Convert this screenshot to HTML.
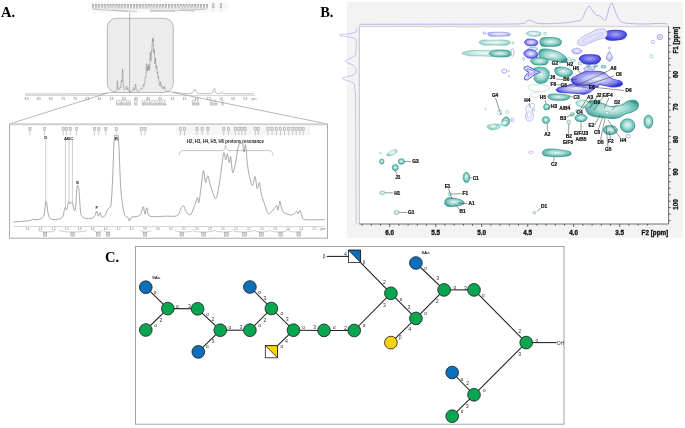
<!DOCTYPE html>
<html><head><meta charset="utf-8"><style>
html,body{margin:0;padding:0;background:#fff;}
svg{display:block;will-change:transform;}
</style></head><body>
<svg width="685" height="428" viewBox="0 0 685 428">
<rect width="685" height="428" fill="#fff"/>
<rect x="88" y="1.5" width="140" height="11" fill="#f9f9f9"/>
<rect x="92.1" y="4" width="1.9" height="4.4" fill="#a6a6a6"/>
<rect x="92.7" y="5.6" width="0.8" height="2.6" fill="#ececec"/>
<line x1="93.0" y1="8.5" x2="93.0" y2="9.8" stroke="#c4c4c4" stroke-width="0.35"/>
<rect x="95.0" y="4" width="1.9" height="4.4" fill="#a6a6a6"/>
<rect x="95.6" y="5.6" width="0.8" height="2.6" fill="#ececec"/>
<line x1="96.0" y1="8.5" x2="96.0" y2="9.8" stroke="#c4c4c4" stroke-width="0.35"/>
<rect x="97.9" y="4" width="1.9" height="4.4" fill="#a6a6a6"/>
<rect x="98.5" y="5.6" width="0.8" height="2.6" fill="#ececec"/>
<line x1="98.9" y1="8.5" x2="98.9" y2="9.8" stroke="#c4c4c4" stroke-width="0.35"/>
<rect x="100.9" y="4" width="1.9" height="4.4" fill="#a6a6a6"/>
<rect x="101.4" y="5.6" width="0.8" height="2.6" fill="#ececec"/>
<line x1="101.8" y1="8.5" x2="101.8" y2="9.8" stroke="#c4c4c4" stroke-width="0.35"/>
<rect x="103.8" y="4" width="1.9" height="4.4" fill="#a6a6a6"/>
<rect x="104.3" y="5.6" width="0.8" height="2.6" fill="#ececec"/>
<line x1="104.7" y1="8.5" x2="104.7" y2="9.8" stroke="#c4c4c4" stroke-width="0.35"/>
<rect x="106.7" y="4" width="1.9" height="4.4" fill="#a6a6a6"/>
<rect x="107.2" y="5.6" width="0.8" height="2.6" fill="#ececec"/>
<line x1="107.6" y1="8.5" x2="107.6" y2="9.8" stroke="#c4c4c4" stroke-width="0.35"/>
<rect x="109.6" y="4" width="1.9" height="4.4" fill="#a6a6a6"/>
<rect x="110.2" y="5.6" width="0.8" height="2.6" fill="#ececec"/>
<line x1="110.6" y1="8.5" x2="110.6" y2="9.8" stroke="#c4c4c4" stroke-width="0.35"/>
<rect x="112.5" y="4" width="1.9" height="4.4" fill="#a6a6a6"/>
<rect x="113.1" y="5.6" width="0.8" height="2.6" fill="#ececec"/>
<line x1="113.5" y1="8.5" x2="113.5" y2="9.8" stroke="#c4c4c4" stroke-width="0.35"/>
<rect x="115.5" y="4" width="1.9" height="4.4" fill="#a6a6a6"/>
<rect x="116.0" y="5.6" width="0.8" height="2.6" fill="#ececec"/>
<line x1="116.4" y1="8.5" x2="116.4" y2="9.8" stroke="#c4c4c4" stroke-width="0.35"/>
<rect x="118.4" y="4" width="1.9" height="4.4" fill="#a6a6a6"/>
<rect x="118.9" y="5.6" width="0.8" height="2.6" fill="#ececec"/>
<line x1="119.3" y1="8.5" x2="119.3" y2="9.8" stroke="#c4c4c4" stroke-width="0.35"/>
<rect x="121.3" y="4" width="1.9" height="4.4" fill="#a6a6a6"/>
<rect x="121.9" y="5.6" width="0.8" height="2.6" fill="#ececec"/>
<line x1="122.2" y1="8.5" x2="122.2" y2="9.8" stroke="#c4c4c4" stroke-width="0.35"/>
<rect x="124.2" y="4" width="1.9" height="4.4" fill="#a6a6a6"/>
<rect x="124.8" y="5.6" width="0.8" height="2.6" fill="#ececec"/>
<line x1="125.2" y1="8.5" x2="125.2" y2="9.8" stroke="#c4c4c4" stroke-width="0.35"/>
<rect x="127.1" y="4" width="1.9" height="4.4" fill="#a6a6a6"/>
<rect x="127.7" y="5.6" width="0.8" height="2.6" fill="#ececec"/>
<line x1="128.1" y1="8.5" x2="128.1" y2="9.8" stroke="#c4c4c4" stroke-width="0.35"/>
<rect x="130.1" y="4" width="1.9" height="4.4" fill="#a6a6a6"/>
<rect x="130.6" y="5.6" width="0.8" height="2.6" fill="#ececec"/>
<line x1="131.0" y1="8.5" x2="131.0" y2="9.8" stroke="#c4c4c4" stroke-width="0.35"/>
<rect x="133.0" y="4" width="1.9" height="4.4" fill="#a6a6a6"/>
<rect x="133.5" y="5.6" width="0.8" height="2.6" fill="#ececec"/>
<line x1="133.9" y1="8.5" x2="133.9" y2="9.8" stroke="#c4c4c4" stroke-width="0.35"/>
<rect x="135.9" y="4" width="1.9" height="4.4" fill="#a6a6a6"/>
<rect x="136.5" y="5.6" width="0.8" height="2.6" fill="#ececec"/>
<line x1="136.9" y1="8.5" x2="136.9" y2="9.8" stroke="#c4c4c4" stroke-width="0.35"/>
<rect x="138.8" y="4" width="1.9" height="4.4" fill="#a6a6a6"/>
<rect x="139.4" y="5.6" width="0.8" height="2.6" fill="#ececec"/>
<line x1="139.8" y1="8.5" x2="139.8" y2="9.8" stroke="#c4c4c4" stroke-width="0.35"/>
<rect x="141.7" y="4" width="1.9" height="4.4" fill="#a6a6a6"/>
<rect x="142.3" y="5.6" width="0.8" height="2.6" fill="#ececec"/>
<line x1="142.7" y1="8.5" x2="142.7" y2="9.8" stroke="#c4c4c4" stroke-width="0.35"/>
<rect x="144.7" y="4" width="1.9" height="4.4" fill="#a6a6a6"/>
<rect x="145.2" y="5.6" width="0.8" height="2.6" fill="#ececec"/>
<line x1="145.6" y1="8.5" x2="145.6" y2="9.8" stroke="#c4c4c4" stroke-width="0.35"/>
<rect x="147.6" y="4" width="1.9" height="4.4" fill="#a6a6a6"/>
<rect x="148.1" y="5.6" width="0.8" height="2.6" fill="#ececec"/>
<line x1="148.5" y1="8.5" x2="148.5" y2="9.8" stroke="#c4c4c4" stroke-width="0.35"/>
<rect x="150.5" y="4" width="1.9" height="4.4" fill="#a6a6a6"/>
<rect x="151.1" y="5.6" width="0.8" height="2.6" fill="#ececec"/>
<line x1="151.5" y1="8.5" x2="151.5" y2="9.8" stroke="#c4c4c4" stroke-width="0.35"/>
<rect x="153.4" y="4" width="1.9" height="4.4" fill="#a6a6a6"/>
<rect x="154.0" y="5.6" width="0.8" height="2.6" fill="#ececec"/>
<line x1="154.4" y1="8.5" x2="154.4" y2="9.8" stroke="#c4c4c4" stroke-width="0.35"/>
<rect x="156.3" y="4" width="1.9" height="4.4" fill="#a6a6a6"/>
<rect x="156.9" y="5.6" width="0.8" height="2.6" fill="#ececec"/>
<line x1="157.3" y1="8.5" x2="157.3" y2="9.8" stroke="#c4c4c4" stroke-width="0.35"/>
<rect x="159.3" y="4" width="1.9" height="4.4" fill="#a6a6a6"/>
<rect x="159.8" y="5.6" width="0.8" height="2.6" fill="#ececec"/>
<line x1="160.2" y1="8.5" x2="160.2" y2="9.8" stroke="#c4c4c4" stroke-width="0.35"/>
<rect x="162.2" y="4" width="1.9" height="4.4" fill="#a6a6a6"/>
<rect x="162.7" y="5.6" width="0.8" height="2.6" fill="#ececec"/>
<line x1="163.1" y1="8.5" x2="163.1" y2="9.8" stroke="#c4c4c4" stroke-width="0.35"/>
<rect x="165.1" y="4" width="1.9" height="4.4" fill="#a6a6a6"/>
<rect x="165.7" y="5.6" width="0.8" height="2.6" fill="#ececec"/>
<line x1="166.1" y1="8.5" x2="166.1" y2="9.8" stroke="#c4c4c4" stroke-width="0.35"/>
<rect x="168.0" y="4" width="1.9" height="4.4" fill="#a6a6a6"/>
<rect x="168.6" y="5.6" width="0.8" height="2.6" fill="#ececec"/>
<line x1="169.0" y1="8.5" x2="169.0" y2="9.8" stroke="#c4c4c4" stroke-width="0.35"/>
<rect x="170.9" y="4" width="1.9" height="4.4" fill="#a6a6a6"/>
<rect x="171.5" y="5.6" width="0.8" height="2.6" fill="#ececec"/>
<line x1="171.9" y1="8.5" x2="171.9" y2="9.8" stroke="#c4c4c4" stroke-width="0.35"/>
<rect x="173.9" y="4" width="1.9" height="4.4" fill="#a6a6a6"/>
<rect x="174.4" y="5.6" width="0.8" height="2.6" fill="#ececec"/>
<line x1="174.8" y1="8.5" x2="174.8" y2="9.8" stroke="#c4c4c4" stroke-width="0.35"/>
<rect x="176.8" y="4" width="1.9" height="4.4" fill="#a6a6a6"/>
<rect x="177.3" y="5.6" width="0.8" height="2.6" fill="#ececec"/>
<line x1="177.7" y1="8.5" x2="177.7" y2="9.8" stroke="#c4c4c4" stroke-width="0.35"/>
<rect x="179.7" y="4" width="1.9" height="4.4" fill="#a6a6a6"/>
<rect x="180.2" y="5.6" width="0.8" height="2.6" fill="#ececec"/>
<line x1="180.7" y1="8.5" x2="180.7" y2="9.8" stroke="#c4c4c4" stroke-width="0.35"/>
<rect x="182.6" y="4" width="1.9" height="4.4" fill="#a6a6a6"/>
<rect x="183.2" y="5.6" width="0.8" height="2.6" fill="#ececec"/>
<line x1="183.6" y1="8.5" x2="183.6" y2="9.8" stroke="#c4c4c4" stroke-width="0.35"/>
<rect x="185.5" y="4" width="1.9" height="4.4" fill="#a6a6a6"/>
<rect x="186.1" y="5.6" width="0.8" height="2.6" fill="#ececec"/>
<line x1="186.5" y1="8.5" x2="186.5" y2="9.8" stroke="#c4c4c4" stroke-width="0.35"/>
<rect x="188.5" y="4" width="1.9" height="4.4" fill="#a6a6a6"/>
<rect x="189.0" y="5.6" width="0.8" height="2.6" fill="#ececec"/>
<line x1="189.4" y1="8.5" x2="189.4" y2="9.8" stroke="#c4c4c4" stroke-width="0.35"/>
<rect x="191.4" y="4" width="1.9" height="4.4" fill="#a6a6a6"/>
<rect x="191.9" y="5.6" width="0.8" height="2.6" fill="#ececec"/>
<line x1="192.3" y1="8.5" x2="192.3" y2="9.8" stroke="#c4c4c4" stroke-width="0.35"/>
<rect x="194.3" y="4" width="1.9" height="4.4" fill="#a6a6a6"/>
<rect x="194.8" y="5.6" width="0.8" height="2.6" fill="#ececec"/>
<line x1="195.2" y1="8.5" x2="195.2" y2="9.8" stroke="#c4c4c4" stroke-width="0.35"/>
<rect x="197.2" y="4" width="1.9" height="4.4" fill="#a6a6a6"/>
<rect x="197.8" y="5.6" width="0.8" height="2.6" fill="#ececec"/>
<line x1="198.2" y1="8.5" x2="198.2" y2="9.8" stroke="#c4c4c4" stroke-width="0.35"/>
<rect x="200.1" y="4" width="1.9" height="4.4" fill="#a6a6a6"/>
<rect x="200.7" y="5.6" width="0.8" height="2.6" fill="#ececec"/>
<line x1="201.1" y1="8.5" x2="201.1" y2="9.8" stroke="#c4c4c4" stroke-width="0.35"/>
<rect x="203.1" y="4" width="1.9" height="4.4" fill="#a6a6a6"/>
<rect x="203.6" y="5.6" width="0.8" height="2.6" fill="#ececec"/>
<line x1="204.0" y1="8.5" x2="204.0" y2="9.8" stroke="#c4c4c4" stroke-width="0.35"/>
<rect x="206.0" y="4" width="1.9" height="4.4" fill="#a6a6a6"/>
<rect x="206.5" y="5.6" width="0.8" height="2.6" fill="#ececec"/>
<line x1="206.9" y1="8.5" x2="206.9" y2="9.8" stroke="#c4c4c4" stroke-width="0.35"/>
<rect x="212.2" y="3.5" width="2.1" height="4.4" fill="#a8a8a8"/>
<rect x="212.8" y="4.6" width="0.9" height="2.3" fill="#e8e8e8"/>
<line x1="213.2" y1="8" x2="213.2" y2="11.5" stroke="#b0b0b0" stroke-width="0.4"/>
<rect x="219.9" y="3.5" width="2.1" height="4.4" fill="#a8a8a8"/>
<rect x="220.5" y="4.6" width="0.9" height="2.3" fill="#e8e8e8"/>
<line x1="221.0" y1="8" x2="221.0" y2="11.5" stroke="#b0b0b0" stroke-width="0.4"/>
<path d="M93,9.3 C105,10 118,10.8 128,11.4 M206,9.3 C185,10 165,10.8 150,11.4 M112,10 L137,11.4 M150,10 L175,11.4 M180,9.8 L195,11.2" stroke="#b0b0b0" stroke-width="0.7" fill="none"/>
<rect x="107.3" y="18.3" width="66" height="74.2" rx="9" ry="9" fill="#ececec" stroke="#a8a8a8" stroke-width="0.8"/>
<line x1="129.6" y1="12.5" x2="129.6" y2="93" stroke="#8a8a8a" stroke-width="0.6"/>
<path d="M25.0,94.0 L26.0,94.0 L27.0,94.0 L28.0,94.0 L29.0,94.0 L30.0,94.0 L31.0,94.0 L32.0,94.0 L33.0,94.0 L34.0,94.0 L35.0,94.0 L36.0,94.0 L37.0,94.0 L38.0,94.0 L39.0,94.0 L40.0,94.0 L41.0,94.0 L42.0,94.0 L43.0,94.0 L44.0,94.0 L45.0,94.0 L46.0,94.0 L47.0,94.0 L48.0,94.0 L49.0,94.0 L50.0,94.0 L51.0,94.0 L52.0,94.0 L53.0,94.0 L54.0,94.0 L55.0,94.0 L56.0,94.0 L57.0,94.0 L58.0,94.0 L59.0,94.0 L60.0,94.0 L61.0,94.0 L62.0,94.0 L63.0,94.0 L64.0,94.0 L65.0,94.0 L66.0,94.0 L67.0,94.0 L68.0,94.0 L69.0,94.0 L70.0,93.9 L71.0,93.9 L72.0,93.9 L73.0,93.9 L74.0,93.9 L75.0,93.9 L76.0,93.9 L77.0,93.9 L78.0,93.9 L79.0,93.9 L80.0,93.9 L81.0,93.9 L82.0,93.9 L83.0,93.9 L84.0,93.9 L85.0,93.9 L86.0,93.9 L87.0,93.9 L88.0,93.9 L89.0,93.9 L90.0,93.9 L91.0,93.9 L92.0,93.9 L93.0,93.9 L94.0,93.9 L95.0,93.9 L96.0,93.9 L97.0,93.9 L98.0,93.9 L99.0,93.9 L100.0,93.8 L101.0,93.7 L102.0,93.6 L103.0,93.5 L104.0,93.3 L105.0,93.2 L106.0,93.1 L107.0,92.9 L108.0,92.8 L109.0,92.6 L110.0,92.5 L110.2,92.5 L110.5,92.5 L110.8,92.4 L111.0,92.4 L111.2,92.4 L111.5,92.4 L111.8,92.4 L112.0,92.4 L112.2,92.4 L112.5,92.3 L112.8,92.3 L113.0,92.3 L113.2,92.3 L113.5,92.2 L113.8,92.2 L114.0,92.2 L114.2,92.1 L114.5,92.1 L114.8,92.0 L115.0,92.0 L115.2,91.9 L115.5,91.8 L115.8,91.6 L116.0,91.4 L116.2,91.0 L116.5,90.4 L116.8,89.3 L117.0,86.7 L117.2,81.7 L117.5,80.6 L117.8,85.6 L118.0,88.5 L118.2,89.6 L118.5,90.1 L118.8,90.1 L119.0,89.9 L119.2,89.4 L119.5,88.4 L119.8,87.5 L120.0,87.6 L120.2,88.1 L120.5,88.1 L120.8,87.2 L121.0,85.2 L121.2,81.8 L121.5,80.4 L121.8,82.0 L122.0,81.2 L122.2,76.5 L122.5,68.7 L122.8,70.3 L123.0,78.8 L123.2,83.9 L123.5,86.4 L123.8,87.8 L124.0,88.6 L124.2,89.1 L124.5,89.5 L124.8,89.7 L125.0,89.9 L125.2,90.0 L125.5,89.9 L125.8,89.6 L126.0,88.9 L126.2,87.3 L126.5,85.9 L126.8,87.3 L127.0,88.8 L127.2,89.3 L127.5,88.9 L127.8,88.1 L128.0,88.9 L128.2,90.1 L128.5,90.7 L128.8,91.1 L129.0,91.3 L129.2,91.4 L129.5,91.5 L129.8,91.5 L130.0,91.6 L130.2,91.6 L130.5,91.6 L130.8,91.6 L131.0,91.6 L131.2,91.6 L131.5,91.6 L131.8,91.5 L132.0,91.4 L132.2,91.3 L132.5,91.1 L132.8,90.8 L133.0,90.1 L133.2,88.7 L133.5,87.5 L133.8,88.5 L134.0,89.7 L134.2,90.2 L134.5,90.2 L134.8,89.9 L135.0,89.0 L135.2,86.9 L135.5,84.0 L135.8,84.5 L136.0,87.5 L136.2,89.3 L136.5,90.1 L136.8,90.6 L137.0,90.8 L137.2,90.9 L137.5,91.0 L137.8,91.0 L138.0,91.0 L138.2,91.0 L138.5,90.9 L138.8,90.9 L139.0,90.8 L139.2,90.7 L139.5,90.6 L139.8,90.4 L140.0,90.2 L140.2,89.8 L140.5,89.3 L140.8,88.7 L141.0,88.3 L141.2,88.4 L141.5,88.8 L141.8,89.0 L142.0,89.0 L142.2,88.8 L142.5,88.3 L142.8,87.5 L143.0,86.0 L143.2,84.2 L143.5,84.7 L143.8,85.8 L144.0,86.1 L144.2,85.8 L144.5,84.9 L144.8,83.3 L145.0,80.5 L145.2,77.4 L145.5,77.3 L145.8,77.9 L146.0,76.2 L146.2,71.2 L146.5,63.5 L146.8,63.8 L147.0,69.5 L147.2,71.1 L147.5,68.3 L147.8,66.4 L148.0,69.6 L148.2,70.8 L148.5,68.1 L148.8,64.1 L149.0,65.9 L149.2,69.6 L149.5,70.3 L149.8,67.4 L150.0,60.1 L150.2,52.1 L150.5,54.6 L150.8,60.5 L151.0,61.1 L151.2,56.1 L151.5,50.5 L151.8,51.6 L152.0,50.4 L152.2,42.7 L152.5,39.1 L152.8,41.7 L153.0,38.7 L153.2,37.7 L153.5,46.3 L153.8,53.1 L154.0,52.5 L154.2,48.8 L154.5,53.9 L154.8,61.6 L155.0,64.0 L155.2,61.1 L155.5,58.2 L155.8,63.1 L156.0,68.1 L156.2,68.3 L156.5,65.6 L156.8,67.3 L157.0,72.1 L157.2,73.6 L157.5,71.9 L157.8,73.5 L158.0,77.4 L158.2,78.1 L158.5,76.5 L158.8,78.1 L159.0,82.0 L159.2,84.4 L159.5,85.5 L159.8,85.8 L160.0,85.2 L160.2,83.4 L160.5,81.8 L160.8,83.8 L161.0,85.9 L161.2,86.7 L161.5,86.3 L161.8,85.4 L162.0,86.4 L162.2,87.8 L162.5,88.6 L162.8,88.7 L163.0,88.3 L163.2,87.3 L163.5,87.2 L163.8,88.1 L164.0,88.5 L164.2,87.8 L164.5,86.4 L164.8,86.9 L165.0,88.7 L165.2,89.8 L165.5,90.4 L165.8,90.7 L166.0,91.0 L166.2,91.1 L166.5,91.2 L166.8,91.3 L167.0,91.4 L167.2,91.5 L167.5,91.5 L167.8,91.6 L168.0,91.6 L168.2,91.7 L168.5,91.7 L168.8,91.8 L169.0,91.8 L169.2,91.8 L169.5,91.9 L169.8,91.9 L170.0,91.9 L170.2,91.9 L171.2,92.0 L172.2,92.1 L173.2,92.2 L174.2,92.2 L175.2,92.3 L176.2,92.4 L177.2,92.6 L178.2,92.7 L179.2,92.8 L180.2,93.0 L181.2,93.1 L182.2,93.2 L183.2,93.3 L184.2,93.4 L185.2,93.5 L186.2,93.5 L187.2,93.5 L188.2,93.5 L189.2,93.5 L190.2,93.4 L190.5,93.4 L190.8,93.4 L191.0,93.4 L191.2,93.3 L191.5,93.3 L191.8,93.2 L192.0,93.2 L192.2,93.0 L192.5,92.8 L192.8,92.5 L193.0,92.0 L193.2,91.3 L193.5,90.7 L193.8,90.7 L194.0,90.8 L194.2,90.4 L194.5,89.7 L194.8,89.1 L195.0,89.3 L195.2,90.0 L195.5,90.5 L195.8,90.5 L196.0,90.6 L196.2,91.2 L196.5,92.0 L196.8,92.5 L197.0,92.8 L197.2,93.0 L197.5,93.2 L197.8,93.3 L198.0,93.3 L198.2,93.4 L198.5,93.4 L198.8,93.5 L199.0,93.5 L199.2,93.5 L199.5,93.5 L199.8,93.5 L200.0,93.6 L200.2,93.6 L200.5,93.6 L200.8,93.6 L201.0,93.6 L201.2,93.6 L201.5,93.6 L201.8,93.6 L202.0,93.6 L202.2,93.6 L202.5,93.6 L202.8,93.6 L203.0,93.6 L203.2,93.6 L203.5,93.6 L203.8,93.6 L204.0,93.6 L204.2,93.6 L204.5,93.6 L204.8,93.6 L205.0,93.6 L205.2,93.6 L205.5,93.6 L205.8,93.6 L206.0,93.6 L206.2,93.6 L206.5,93.6 L206.8,93.6 L207.0,93.6 L207.2,93.6 L207.5,93.6 L207.8,93.6 L208.0,93.6 L208.2,93.6 L208.5,93.6 L208.8,93.6 L209.0,93.6 L209.2,93.6 L209.5,93.6 L209.8,93.6 L210.0,93.6 L210.2,93.5 L210.5,93.5 L210.8,93.5 L211.0,93.5 L211.2,93.4 L211.5,93.4 L211.8,93.3 L212.0,93.2 L212.2,93.0 L212.5,92.8 L212.8,92.4 L213.0,91.8 L213.2,90.8 L213.5,89.9 L213.8,89.8 L214.0,89.5 L214.2,88.7 L214.5,88.2 L214.8,89.1 L215.0,90.5 L215.2,91.6 L215.5,92.2 L215.8,92.7 L216.0,92.9 L216.2,93.1 L216.5,93.2 L216.8,93.3 L217.0,93.4 L217.2,93.4 L217.5,93.5 L217.8,93.5 L218.0,93.5 L218.2,93.5 L218.5,93.5 L218.8,93.5 L219.0,93.5 L219.2,93.5 L219.5,93.5 L219.8,93.5 L220.0,93.5 L220.2,93.5 L220.5,93.4 L220.8,93.3 L221.0,93.2 L221.2,92.9 L221.5,92.5 L221.8,92.0 L222.0,91.7 L222.2,92.0 L222.5,92.5 L222.8,92.9 L223.0,93.2 L223.2,93.3 L223.5,93.4 L223.8,93.5 L224.0,93.6 L224.2,93.6 L224.5,93.6 L224.8,93.6 L225.0,93.6 L225.2,93.7 L225.5,93.7 L225.8,93.7 L226.0,93.7 L226.2,93.7 L227.2,93.7 L228.2,93.7 L229.2,93.7 L230.2,93.7 L231.2,93.7 L232.2,93.7 L233.2,93.7 L234.2,93.7 L235.2,93.7 L236.2,93.7 L237.2,93.8 L238.2,93.8 L239.2,93.8 L240.2,93.8 L241.2,93.8 L242.2,93.8 L243.2,93.8 L244.2,93.8 L245.2,93.8 L246.2,93.8 L247.2,93.8 L248.2,93.8 L249.2,93.8 L250.2,93.8 L251.2,93.8 L252.2,93.8 L253.2,93.8 L254.2,93.8" fill="none" stroke="#7c7c7c" stroke-width="0.5"/>
<line x1="25" y1="95.4" x2="255" y2="95.4" stroke="#cfcfcf" stroke-width="0.9"/>
<line x1="26.6" y1="95.4" x2="26.6" y2="96.6" stroke="#bbb" stroke-width="0.4"/>
<text x="26.6" y="99.6" font-size="2.7" fill="#8a8a8a" text-anchor="middle" font-family="Liberation Sans" font-weight="bold">9.0</text>
<line x1="38.8" y1="95.4" x2="38.8" y2="96.6" stroke="#bbb" stroke-width="0.4"/>
<text x="38.8" y="99.6" font-size="2.7" fill="#8a8a8a" text-anchor="middle" font-family="Liberation Sans" font-weight="bold">8.5</text>
<line x1="50.9" y1="95.4" x2="50.9" y2="96.6" stroke="#bbb" stroke-width="0.4"/>
<text x="50.9" y="99.6" font-size="2.7" fill="#8a8a8a" text-anchor="middle" font-family="Liberation Sans" font-weight="bold">8.0</text>
<line x1="63.1" y1="95.4" x2="63.1" y2="96.6" stroke="#bbb" stroke-width="0.4"/>
<text x="63.1" y="99.6" font-size="2.7" fill="#8a8a8a" text-anchor="middle" font-family="Liberation Sans" font-weight="bold">7.5</text>
<line x1="75.2" y1="95.4" x2="75.2" y2="96.6" stroke="#bbb" stroke-width="0.4"/>
<text x="75.2" y="99.6" font-size="2.7" fill="#8a8a8a" text-anchor="middle" font-family="Liberation Sans" font-weight="bold">7.0</text>
<line x1="87.3" y1="95.4" x2="87.3" y2="96.6" stroke="#bbb" stroke-width="0.4"/>
<text x="87.3" y="99.6" font-size="2.7" fill="#8a8a8a" text-anchor="middle" font-family="Liberation Sans" font-weight="bold">6.5</text>
<line x1="99.5" y1="95.4" x2="99.5" y2="96.6" stroke="#bbb" stroke-width="0.4"/>
<text x="99.5" y="99.6" font-size="2.7" fill="#8a8a8a" text-anchor="middle" font-family="Liberation Sans" font-weight="bold">6.0</text>
<line x1="111.7" y1="95.4" x2="111.7" y2="96.6" stroke="#bbb" stroke-width="0.4"/>
<text x="111.7" y="99.6" font-size="2.7" fill="#8a8a8a" text-anchor="middle" font-family="Liberation Sans" font-weight="bold">5.5</text>
<line x1="123.8" y1="95.4" x2="123.8" y2="96.6" stroke="#bbb" stroke-width="0.4"/>
<text x="123.8" y="99.6" font-size="2.7" fill="#8a8a8a" text-anchor="middle" font-family="Liberation Sans" font-weight="bold">5.0</text>
<line x1="136.0" y1="95.4" x2="136.0" y2="96.6" stroke="#bbb" stroke-width="0.4"/>
<text x="136.0" y="99.6" font-size="2.7" fill="#8a8a8a" text-anchor="middle" font-family="Liberation Sans" font-weight="bold">4.5</text>
<line x1="148.1" y1="95.4" x2="148.1" y2="96.6" stroke="#bbb" stroke-width="0.4"/>
<text x="148.1" y="99.6" font-size="2.7" fill="#8a8a8a" text-anchor="middle" font-family="Liberation Sans" font-weight="bold">4.0</text>
<line x1="160.2" y1="95.4" x2="160.2" y2="96.6" stroke="#bbb" stroke-width="0.4"/>
<text x="160.2" y="99.6" font-size="2.7" fill="#8a8a8a" text-anchor="middle" font-family="Liberation Sans" font-weight="bold">3.5</text>
<line x1="172.4" y1="95.4" x2="172.4" y2="96.6" stroke="#bbb" stroke-width="0.4"/>
<text x="172.4" y="99.6" font-size="2.7" fill="#8a8a8a" text-anchor="middle" font-family="Liberation Sans" font-weight="bold">3.0</text>
<line x1="184.6" y1="95.4" x2="184.6" y2="96.6" stroke="#bbb" stroke-width="0.4"/>
<text x="184.6" y="99.6" font-size="2.7" fill="#8a8a8a" text-anchor="middle" font-family="Liberation Sans" font-weight="bold">2.5</text>
<line x1="196.7" y1="95.4" x2="196.7" y2="96.6" stroke="#bbb" stroke-width="0.4"/>
<text x="196.7" y="99.6" font-size="2.7" fill="#8a8a8a" text-anchor="middle" font-family="Liberation Sans" font-weight="bold">2.0</text>
<line x1="208.8" y1="95.4" x2="208.8" y2="96.6" stroke="#bbb" stroke-width="0.4"/>
<text x="208.8" y="99.6" font-size="2.7" fill="#8a8a8a" text-anchor="middle" font-family="Liberation Sans" font-weight="bold">1.5</text>
<line x1="221.0" y1="95.4" x2="221.0" y2="96.6" stroke="#bbb" stroke-width="0.4"/>
<text x="221.0" y="99.6" font-size="2.7" fill="#8a8a8a" text-anchor="middle" font-family="Liberation Sans" font-weight="bold">1.0</text>
<line x1="233.2" y1="95.4" x2="233.2" y2="96.6" stroke="#bbb" stroke-width="0.4"/>
<text x="233.2" y="99.6" font-size="2.7" fill="#8a8a8a" text-anchor="middle" font-family="Liberation Sans" font-weight="bold">0.5</text>
<line x1="245.3" y1="95.4" x2="245.3" y2="96.6" stroke="#bbb" stroke-width="0.4"/>
<text x="245.3" y="99.6" font-size="2.7" fill="#8a8a8a" text-anchor="middle" font-family="Liberation Sans" font-weight="bold">0.0</text>
<text x="254" y="99.6" font-size="2.7" fill="#8a8a8a" text-anchor="middle" font-family="Liberation Sans">ppm</text>
<line x1="116.1" y1="100.3" x2="131.3" y2="100.3" stroke="#b0b0b0" stroke-width="0.4"/>
<line x1="116.5" y1="100.3" x2="116.5" y2="105.6" stroke="#8a8a8a" stroke-width="0.45"/>
<rect x="117.2" y="103.2" width="1.2" height="2.2" fill="#b4b4b4"/>
<line x1="119.0" y1="100.3" x2="119.0" y2="105.6" stroke="#8a8a8a" stroke-width="0.45"/>
<rect x="119.7" y="102.2" width="1.2" height="3.2" fill="#b4b4b4"/>
<line x1="121.5" y1="100.3" x2="121.5" y2="105.6" stroke="#8a8a8a" stroke-width="0.45"/>
<rect x="122.2" y="102.2" width="1.2" height="3.2" fill="#b4b4b4"/>
<line x1="124.0" y1="100.3" x2="124.0" y2="105.6" stroke="#8a8a8a" stroke-width="0.45"/>
<rect x="124.7" y="103.2" width="1.2" height="2.2" fill="#b4b4b4"/>
<line x1="126.5" y1="100.3" x2="126.5" y2="105.6" stroke="#8a8a8a" stroke-width="0.45"/>
<rect x="127.2" y="102.6" width="1.2" height="2.8" fill="#b4b4b4"/>
<line x1="129.0" y1="100.3" x2="129.0" y2="105.6" stroke="#8a8a8a" stroke-width="0.45"/>
<rect x="129.7" y="102.2" width="1.2" height="3.2" fill="#b4b4b4"/>
<line x1="134.2" y1="100.3" x2="138.0" y2="100.3" stroke="#b0b0b0" stroke-width="0.4"/>
<line x1="134.6" y1="100.3" x2="134.6" y2="105.6" stroke="#8a8a8a" stroke-width="0.45"/>
<rect x="135.2" y="102.6" width="1.2" height="2.8" fill="#b4b4b4"/>
<line x1="137.1" y1="100.3" x2="137.1" y2="105.6" stroke="#8a8a8a" stroke-width="0.45"/>
<line x1="141.7" y1="100.3" x2="166.4" y2="100.3" stroke="#b0b0b0" stroke-width="0.4"/>
<line x1="142.1" y1="100.3" x2="142.1" y2="105.6" stroke="#8a8a8a" stroke-width="0.45"/>
<rect x="142.8" y="102.2" width="1.2" height="3.2" fill="#b4b4b4"/>
<line x1="144.6" y1="100.3" x2="144.6" y2="105.6" stroke="#8a8a8a" stroke-width="0.45"/>
<rect x="145.2" y="102.2" width="1.2" height="3.2" fill="#b4b4b4"/>
<line x1="147.1" y1="100.3" x2="147.1" y2="105.6" stroke="#8a8a8a" stroke-width="0.45"/>
<rect x="147.8" y="103.2" width="1.2" height="2.2" fill="#b4b4b4"/>
<line x1="149.6" y1="100.3" x2="149.6" y2="105.6" stroke="#8a8a8a" stroke-width="0.45"/>
<rect x="150.2" y="102.2" width="1.2" height="3.2" fill="#b4b4b4"/>
<line x1="152.1" y1="100.3" x2="152.1" y2="105.6" stroke="#8a8a8a" stroke-width="0.45"/>
<rect x="152.8" y="103.2" width="1.2" height="2.2" fill="#b4b4b4"/>
<line x1="154.6" y1="100.3" x2="154.6" y2="105.6" stroke="#8a8a8a" stroke-width="0.45"/>
<rect x="155.2" y="102.6" width="1.2" height="2.8" fill="#b4b4b4"/>
<line x1="157.1" y1="100.3" x2="157.1" y2="105.6" stroke="#8a8a8a" stroke-width="0.45"/>
<rect x="157.8" y="102.6" width="1.2" height="2.8" fill="#b4b4b4"/>
<line x1="159.6" y1="100.3" x2="159.6" y2="105.6" stroke="#8a8a8a" stroke-width="0.45"/>
<rect x="160.2" y="102.2" width="1.2" height="3.2" fill="#b4b4b4"/>
<line x1="162.1" y1="100.3" x2="162.1" y2="105.6" stroke="#8a8a8a" stroke-width="0.45"/>
<rect x="162.8" y="103.2" width="1.2" height="2.2" fill="#b4b4b4"/>
<line x1="164.6" y1="100.3" x2="164.6" y2="105.6" stroke="#8a8a8a" stroke-width="0.45"/>
<rect x="165.2" y="103.2" width="1.2" height="2.2" fill="#b4b4b4"/>
<line x1="192.0" y1="100.3" x2="199.6" y2="100.3" stroke="#b0b0b0" stroke-width="0.4"/>
<line x1="192.4" y1="100.3" x2="192.4" y2="105.6" stroke="#8a8a8a" stroke-width="0.45"/>
<rect x="193.1" y="102.2" width="1.2" height="3.2" fill="#b4b4b4"/>
<line x1="194.9" y1="100.3" x2="194.9" y2="105.6" stroke="#8a8a8a" stroke-width="0.45"/>
<rect x="195.6" y="102.6" width="1.2" height="2.8" fill="#b4b4b4"/>
<line x1="197.4" y1="100.3" x2="197.4" y2="105.6" stroke="#8a8a8a" stroke-width="0.45"/>
<rect x="198.1" y="102.2" width="1.2" height="3.2" fill="#b4b4b4"/>
<line x1="210.0" y1="100.3" x2="216.7" y2="100.3" stroke="#b0b0b0" stroke-width="0.4"/>
<line x1="210.4" y1="100.3" x2="210.4" y2="105.6" stroke="#8a8a8a" stroke-width="0.45"/>
<rect x="211.1" y="102.2" width="1.2" height="3.2" fill="#b4b4b4"/>
<line x1="212.9" y1="100.3" x2="212.9" y2="105.6" stroke="#8a8a8a" stroke-width="0.45"/>
<rect x="213.6" y="102.6" width="1.2" height="2.8" fill="#b4b4b4"/>
<line x1="215.4" y1="100.3" x2="215.4" y2="105.6" stroke="#8a8a8a" stroke-width="0.45"/>
<rect x="216.1" y="102.6" width="1.2" height="2.8" fill="#b4b4b4"/>
<line x1="221.4" y1="100.3" x2="224.3" y2="100.3" stroke="#b0b0b0" stroke-width="0.4"/>
<line x1="221.8" y1="100.3" x2="221.8" y2="105.6" stroke="#8a8a8a" stroke-width="0.45"/>
<rect x="222.5" y="102.2" width="1.2" height="3.2" fill="#b4b4b4"/>
<line x1="107.5" y1="93" x2="9.5" y2="124" stroke="#9a9a9a" stroke-width="0.7"/>
<line x1="173" y1="92.5" x2="327.5" y2="124" stroke="#9a9a9a" stroke-width="0.7"/>
<rect x="9.6" y="124.2" width="317.9" height="114" fill="#ffffff" stroke="#a0a0a0" stroke-width="0.9"/>
<line x1="9.6" y1="124.4" x2="327.5" y2="124.4" stroke="#cfcfcf" stroke-width="1.6"/>
<rect x="176" y="125" width="134" height="10" fill="#f6f6f9"/>
<rect x="28.6" y="127.1" width="2.6" height="3.7" fill="#c2c2c2" stroke="#b0b0b0" stroke-width="0.3"/>
<rect x="29.3" y="128.2" width="1.2" height="1.5" fill="#efefef"/>
<line x1="29.9" y1="131.3" x2="29.9" y2="135.4" stroke="#8a8a8a" stroke-width="0.45"/>
<rect x="43.3" y="127.1" width="2.6" height="3.7" fill="#c2c2c2" stroke="#b0b0b0" stroke-width="0.3"/>
<rect x="44.0" y="128.2" width="1.2" height="1.5" fill="#efefef"/>
<line x1="44.6" y1="131.3" x2="44.6" y2="135.4" stroke="#8a8a8a" stroke-width="0.45"/>
<rect x="62.0" y="127.1" width="2.6" height="3.7" fill="#c2c2c2" stroke="#b0b0b0" stroke-width="0.3"/>
<rect x="62.7" y="128.2" width="1.2" height="1.5" fill="#efefef"/>
<line x1="63.3" y1="131.3" x2="63.3" y2="135.4" stroke="#8a8a8a" stroke-width="0.45"/>
<rect x="65.2" y="127.1" width="2.6" height="3.7" fill="#c2c2c2" stroke="#b0b0b0" stroke-width="0.3"/>
<rect x="65.9" y="128.2" width="1.2" height="1.5" fill="#efefef"/>
<line x1="66.5" y1="131.3" x2="66.5" y2="135.4" stroke="#8a8a8a" stroke-width="0.45"/>
<rect x="69.0" y="127.1" width="2.6" height="3.7" fill="#c2c2c2" stroke="#b0b0b0" stroke-width="0.3"/>
<rect x="69.7" y="128.2" width="1.2" height="1.5" fill="#efefef"/>
<line x1="70.3" y1="131.3" x2="70.3" y2="135.4" stroke="#8a8a8a" stroke-width="0.45"/>
<rect x="75.3" y="127.1" width="2.6" height="3.7" fill="#c2c2c2" stroke="#b0b0b0" stroke-width="0.3"/>
<rect x="76.0" y="128.2" width="1.2" height="1.5" fill="#efefef"/>
<line x1="76.6" y1="131.3" x2="76.6" y2="135.4" stroke="#8a8a8a" stroke-width="0.45"/>
<rect x="93.3" y="127.1" width="2.6" height="3.7" fill="#c2c2c2" stroke="#b0b0b0" stroke-width="0.3"/>
<rect x="94.0" y="128.2" width="1.2" height="1.5" fill="#efefef"/>
<line x1="94.6" y1="131.3" x2="94.6" y2="135.4" stroke="#8a8a8a" stroke-width="0.45"/>
<rect x="97.5" y="127.1" width="2.6" height="3.7" fill="#c2c2c2" stroke="#b0b0b0" stroke-width="0.3"/>
<rect x="98.2" y="128.2" width="1.2" height="1.5" fill="#efefef"/>
<line x1="98.8" y1="131.3" x2="98.8" y2="135.4" stroke="#8a8a8a" stroke-width="0.45"/>
<rect x="104.5" y="127.1" width="2.6" height="3.7" fill="#c2c2c2" stroke="#b0b0b0" stroke-width="0.3"/>
<rect x="105.2" y="128.2" width="1.2" height="1.5" fill="#efefef"/>
<line x1="105.8" y1="131.3" x2="105.8" y2="135.4" stroke="#8a8a8a" stroke-width="0.45"/>
<rect x="115.0" y="127.1" width="2.6" height="3.7" fill="#c2c2c2" stroke="#b0b0b0" stroke-width="0.3"/>
<rect x="115.7" y="128.2" width="1.2" height="1.5" fill="#efefef"/>
<line x1="116.3" y1="131.3" x2="116.3" y2="135.4" stroke="#8a8a8a" stroke-width="0.45"/>
<rect x="140.0" y="127.1" width="2.6" height="3.7" fill="#c2c2c2" stroke="#b0b0b0" stroke-width="0.3"/>
<rect x="140.7" y="128.2" width="1.2" height="1.5" fill="#efefef"/>
<line x1="141.3" y1="131.3" x2="141.3" y2="135.4" stroke="#8a8a8a" stroke-width="0.45"/>
<rect x="143.7" y="127.1" width="2.6" height="3.7" fill="#c2c2c2" stroke="#b0b0b0" stroke-width="0.3"/>
<rect x="144.4" y="128.2" width="1.2" height="1.5" fill="#efefef"/>
<line x1="145.0" y1="131.3" x2="145.0" y2="135.4" stroke="#8a8a8a" stroke-width="0.45"/>
<rect x="179.2" y="127.1" width="2.6" height="3.7" fill="#c2c2c2" stroke="#b0b0b0" stroke-width="0.3"/>
<rect x="179.9" y="128.2" width="1.2" height="1.5" fill="#efefef"/>
<line x1="180.5" y1="131.3" x2="180.5" y2="135.4" stroke="#8a8a8a" stroke-width="0.45"/>
<rect x="183.2" y="127.1" width="2.6" height="3.7" fill="#c2c2c2" stroke="#b0b0b0" stroke-width="0.3"/>
<rect x="183.9" y="128.2" width="1.2" height="1.5" fill="#efefef"/>
<line x1="184.5" y1="131.3" x2="184.5" y2="135.4" stroke="#8a8a8a" stroke-width="0.45"/>
<rect x="195.6" y="127.1" width="2.6" height="3.7" fill="#c2c2c2" stroke="#b0b0b0" stroke-width="0.3"/>
<rect x="196.3" y="128.2" width="1.2" height="1.5" fill="#efefef"/>
<line x1="196.9" y1="131.3" x2="196.9" y2="135.4" stroke="#8a8a8a" stroke-width="0.45"/>
<rect x="200.9" y="127.1" width="2.6" height="3.7" fill="#c2c2c2" stroke="#b0b0b0" stroke-width="0.3"/>
<rect x="201.6" y="128.2" width="1.2" height="1.5" fill="#efefef"/>
<line x1="202.2" y1="131.3" x2="202.2" y2="135.4" stroke="#8a8a8a" stroke-width="0.45"/>
<rect x="206.6" y="127.1" width="2.6" height="3.7" fill="#c2c2c2" stroke="#b0b0b0" stroke-width="0.3"/>
<rect x="207.3" y="128.2" width="1.2" height="1.5" fill="#efefef"/>
<line x1="207.9" y1="131.3" x2="207.9" y2="135.4" stroke="#8a8a8a" stroke-width="0.45"/>
<rect x="222.4" y="127.1" width="2.6" height="3.7" fill="#c2c2c2" stroke="#b0b0b0" stroke-width="0.3"/>
<rect x="223.1" y="128.2" width="1.2" height="1.5" fill="#efefef"/>
<line x1="223.7" y1="131.3" x2="223.7" y2="135.4" stroke="#8a8a8a" stroke-width="0.45"/>
<rect x="227.1" y="127.1" width="2.6" height="3.7" fill="#c2c2c2" stroke="#b0b0b0" stroke-width="0.3"/>
<rect x="227.8" y="128.2" width="1.2" height="1.5" fill="#efefef"/>
<line x1="228.4" y1="131.3" x2="228.4" y2="135.4" stroke="#8a8a8a" stroke-width="0.45"/>
<rect x="234.1" y="127.1" width="2.6" height="3.7" fill="#c2c2c2" stroke="#b0b0b0" stroke-width="0.3"/>
<rect x="234.8" y="128.2" width="1.2" height="1.5" fill="#efefef"/>
<line x1="235.4" y1="131.3" x2="235.4" y2="135.4" stroke="#8a8a8a" stroke-width="0.45"/>
<rect x="237.6" y="127.1" width="2.6" height="3.7" fill="#c2c2c2" stroke="#b0b0b0" stroke-width="0.3"/>
<rect x="238.3" y="128.2" width="1.2" height="1.5" fill="#efefef"/>
<line x1="238.9" y1="131.3" x2="238.9" y2="135.4" stroke="#8a8a8a" stroke-width="0.45"/>
<rect x="240.7" y="127.1" width="2.6" height="3.7" fill="#c2c2c2" stroke="#b0b0b0" stroke-width="0.3"/>
<rect x="241.4" y="128.2" width="1.2" height="1.5" fill="#efefef"/>
<line x1="242.0" y1="131.3" x2="242.0" y2="135.4" stroke="#8a8a8a" stroke-width="0.45"/>
<rect x="243.9" y="127.1" width="2.6" height="3.7" fill="#c2c2c2" stroke="#b0b0b0" stroke-width="0.3"/>
<rect x="244.6" y="128.2" width="1.2" height="1.5" fill="#efefef"/>
<line x1="245.2" y1="131.3" x2="245.2" y2="135.4" stroke="#8a8a8a" stroke-width="0.45"/>
<rect x="254.0" y="127.1" width="2.6" height="3.7" fill="#c2c2c2" stroke="#b0b0b0" stroke-width="0.3"/>
<rect x="254.7" y="128.2" width="1.2" height="1.5" fill="#efefef"/>
<line x1="255.3" y1="131.3" x2="255.3" y2="135.4" stroke="#8a8a8a" stroke-width="0.45"/>
<rect x="257.0" y="127.1" width="2.6" height="3.7" fill="#c2c2c2" stroke="#b0b0b0" stroke-width="0.3"/>
<rect x="257.7" y="128.2" width="1.2" height="1.5" fill="#efefef"/>
<line x1="258.3" y1="131.3" x2="258.3" y2="135.4" stroke="#8a8a8a" stroke-width="0.45"/>
<rect x="266.8" y="127.1" width="2.6" height="3.7" fill="#c2c2c2" stroke="#b0b0b0" stroke-width="0.3"/>
<rect x="267.5" y="128.2" width="1.2" height="1.5" fill="#efefef"/>
<line x1="268.1" y1="131.3" x2="268.1" y2="135.4" stroke="#8a8a8a" stroke-width="0.45"/>
<rect x="270.8" y="127.1" width="2.6" height="3.7" fill="#c2c2c2" stroke="#b0b0b0" stroke-width="0.3"/>
<rect x="271.5" y="128.2" width="1.2" height="1.5" fill="#efefef"/>
<line x1="272.1" y1="131.3" x2="272.1" y2="135.4" stroke="#8a8a8a" stroke-width="0.45"/>
<rect x="275.0" y="127.1" width="2.6" height="3.7" fill="#c2c2c2" stroke="#b0b0b0" stroke-width="0.3"/>
<rect x="275.7" y="128.2" width="1.2" height="1.5" fill="#efefef"/>
<line x1="276.3" y1="131.3" x2="276.3" y2="135.4" stroke="#8a8a8a" stroke-width="0.45"/>
<rect x="279.2" y="127.1" width="2.6" height="3.7" fill="#c2c2c2" stroke="#b0b0b0" stroke-width="0.3"/>
<rect x="279.9" y="128.2" width="1.2" height="1.5" fill="#efefef"/>
<line x1="280.5" y1="131.3" x2="280.5" y2="135.4" stroke="#8a8a8a" stroke-width="0.45"/>
<rect x="283.2" y="127.1" width="2.6" height="3.7" fill="#c2c2c2" stroke="#b0b0b0" stroke-width="0.3"/>
<rect x="283.9" y="128.2" width="1.2" height="1.5" fill="#efefef"/>
<line x1="284.5" y1="131.3" x2="284.5" y2="135.4" stroke="#8a8a8a" stroke-width="0.45"/>
<rect x="287.4" y="127.1" width="2.6" height="3.7" fill="#c2c2c2" stroke="#b0b0b0" stroke-width="0.3"/>
<rect x="288.1" y="128.2" width="1.2" height="1.5" fill="#efefef"/>
<line x1="288.7" y1="131.3" x2="288.7" y2="135.4" stroke="#8a8a8a" stroke-width="0.45"/>
<rect x="291.4" y="127.1" width="2.6" height="3.7" fill="#c2c2c2" stroke="#b0b0b0" stroke-width="0.3"/>
<rect x="292.1" y="128.2" width="1.2" height="1.5" fill="#efefef"/>
<line x1="292.7" y1="131.3" x2="292.7" y2="135.4" stroke="#8a8a8a" stroke-width="0.45"/>
<rect x="294.9" y="127.1" width="2.6" height="3.7" fill="#c2c2c2" stroke="#b0b0b0" stroke-width="0.3"/>
<rect x="295.6" y="128.2" width="1.2" height="1.5" fill="#efefef"/>
<line x1="296.2" y1="131.3" x2="296.2" y2="135.4" stroke="#8a8a8a" stroke-width="0.45"/>
<rect x="298.6" y="127.1" width="2.6" height="3.7" fill="#c2c2c2" stroke="#b0b0b0" stroke-width="0.3"/>
<rect x="299.3" y="128.2" width="1.2" height="1.5" fill="#efefef"/>
<line x1="299.9" y1="131.3" x2="299.9" y2="135.4" stroke="#8a8a8a" stroke-width="0.45"/>
<rect x="301.9" y="127.1" width="2.6" height="3.7" fill="#c2c2c2" stroke="#b0b0b0" stroke-width="0.3"/>
<rect x="302.6" y="128.2" width="1.2" height="1.5" fill="#efefef"/>
<line x1="303.2" y1="131.3" x2="303.2" y2="135.4" stroke="#8a8a8a" stroke-width="0.45"/>
<line x1="45.8" y1="139.5" x2="45.8" y2="201.5" stroke="#9a9a9a" stroke-width="0.5"/>
<line x1="65.4" y1="139.5" x2="65.4" y2="207" stroke="#9a9a9a" stroke-width="0.5"/>
<line x1="69" y1="139.5" x2="69" y2="201.5" stroke="#9a9a9a" stroke-width="0.5"/>
<line x1="72.4" y1="139.5" x2="72.4" y2="202" stroke="#9a9a9a" stroke-width="0.5"/>
<text x="45.8" y="139.3" font-size="4.3" text-anchor="middle" font-family="Liberation Sans" font-weight="bold" fill="#222">D</text>
<text x="68.6" y="139.6" font-size="4.3" text-anchor="middle" font-family="Liberation Sans" font-weight="bold" fill="#222">ABC</text>
<text x="77.8" y="183.6" font-size="4.3" text-anchor="middle" font-family="Liberation Sans" font-weight="bold" fill="#222">E</text>
<text x="96.8" y="208.6" font-size="4" text-anchor="middle" font-family="Liberation Sans" font-weight="bold" fill="#222">F</text>
<rect x="114.5" y="135.3" width="3.8" height="4.8" fill="#fff" stroke="#666" stroke-width="0.4"/>
<text x="116.4" y="139.5" font-size="4.3" text-anchor="middle" font-family="Liberation Sans" font-weight="bold" fill="#222">R</text>
<text transform="translate(225.4,142.8) scale(0.86,1)" x="0" y="0" font-size="5.0" text-anchor="middle" font-family="Liberation Sans" font-weight="bold" fill="#222">H2, H3, H4, H5, H6 protons resonance</text>
<path d="M179,155.5 Q179.5,150.6 183,150.6 L222,150.6 Q225,150.6 225.5,145.4 Q226,150.6 229,150.6 L269,150.6 Q272.5,150.6 273.2,155.5" fill="none" stroke="#9a9a9a" stroke-width="0.6"/>
<path d="M13.2,222.0 C15.6,221.8 26.3,221.1 29.3,220.7 C32.3,220.3 31.9,219.3 33.1,219.2 C34.3,219.1 35.6,220.0 37.0,219.8 C38.4,219.6 41.0,219.0 42.1,218.1 C43.2,217.2 43.9,215.7 44.4,213.6 C44.9,211.5 45.1,205.8 45.4,204.0 C45.7,202.2 46.0,201.4 46.2,201.5 C46.4,201.6 46.7,202.9 47.0,204.5 C47.3,206.1 47.4,210.3 47.9,212.4 C48.4,214.5 49.0,217.8 50.4,218.8 C51.8,219.9 55.7,219.7 57.5,219.4 C59.3,219.1 61.6,218.5 62.6,216.9 C63.6,215.3 64.1,210.4 64.5,209.0 C64.9,207.6 64.9,207.4 65.2,207.5 C65.5,207.6 66.3,210.3 66.7,209.8 C67.1,209.3 67.7,205.2 68.0,204.0 C68.3,202.8 68.7,201.5 69.0,201.5 C69.3,201.5 69.8,203.8 70.1,204.0 C70.4,204.2 70.7,202.8 71.0,202.5 C71.3,202.2 72.0,201.6 72.3,202.1 C72.6,202.6 72.9,204.8 73.2,206.0 C73.5,207.2 73.9,210.0 74.2,210.4 C74.5,210.8 75.1,211.3 75.5,208.5 C75.9,205.7 76.3,195.5 76.6,192.0 C76.9,188.5 77.2,186.2 77.4,185.4 C77.6,184.6 78.0,185.8 78.2,186.5 C78.4,187.2 78.6,186.1 79.0,190.0 C79.4,193.9 80.1,208.5 80.6,212.4 C81.0,216.3 81.4,215.1 82.0,216.0 C82.6,216.9 83.4,217.7 84.5,218.1 C85.6,218.5 88.4,218.4 89.6,218.4 C90.8,218.4 92.0,218.2 92.8,217.8 C93.6,217.4 94.4,216.6 95.0,215.6 C95.6,214.6 96.1,211.0 96.6,211.1 C97.1,211.2 97.8,216.0 98.3,216.2 C98.8,216.4 99.6,212.6 100.1,212.7 C100.6,212.8 101.0,216.7 101.7,217.1 C102.4,217.5 104.2,216.7 105.0,215.6 C105.8,214.5 106.5,211.2 107.2,210.0 C107.9,208.8 108.8,208.8 109.4,207.8 C110.0,206.8 110.7,208.3 111.2,203.3 C111.7,198.3 112.4,183.4 112.8,174.4 C113.2,165.4 113.6,148.8 113.9,143.3 C114.2,137.8 114.4,138.6 115.0,137.8 C115.6,137.0 117.3,136.3 117.9,137.8 C118.5,139.3 118.6,140.6 119.0,147.8 C119.4,155.0 120.0,176.8 120.6,185.6 C121.2,194.4 122.1,202.2 122.8,206.7 C123.5,211.2 124.2,213.9 125.0,215.6 C125.8,217.3 127.6,217.0 128.3,217.8 C129.0,218.6 128.9,221.2 129.4,221.1 C129.9,221.0 130.7,217.8 131.7,217.1 C132.7,216.4 134.8,217.1 136.1,216.7 C137.4,216.3 139.5,215.9 140.6,214.4 C141.7,212.9 142.5,206.8 143.2,206.7 C143.9,206.6 144.5,213.8 145.0,214.0 C145.5,214.2 146.2,207.6 146.8,207.8 C147.4,208.0 147.6,214.3 149.0,215.6 C150.4,216.9 153.7,216.6 156.1,216.7 C158.5,216.8 162.2,216.3 165.0,216.2 C167.8,216.1 172.9,216.5 175.0,216.2 C177.1,215.9 177.8,215.2 178.7,214.0 C179.6,212.8 180.3,209.7 181.0,208.5 C181.7,207.3 182.8,205.6 183.4,205.7 C184.0,205.8 184.4,207.8 185.0,209.0 C185.6,210.2 186.7,212.8 187.6,213.6 C188.5,214.4 189.9,215.8 191.0,214.4 C192.1,213.0 194.0,206.9 195.0,204.4 C196.0,201.9 196.9,197.8 197.5,197.5 C198.1,197.2 198.4,203.8 198.9,202.5 C199.4,201.2 200.2,193.4 200.9,188.6 C201.6,183.8 202.8,171.6 203.5,170.7 C204.2,169.8 204.8,181.8 205.5,182.6 C206.2,183.3 207.1,175.1 207.9,175.7 C208.7,176.3 209.6,183.2 210.8,186.6 C212.0,190.0 214.5,199.4 215.8,198.5 C217.2,197.6 218.8,186.6 219.8,180.6 C220.8,174.6 222.1,163.0 222.7,158.8 C223.3,154.6 223.7,152.3 224.1,152.5 C224.5,152.7 225.2,159.6 225.7,159.8 C226.2,160.0 226.8,153.4 227.3,153.8 C227.8,154.2 228.8,162.4 229.3,162.8 C229.8,163.2 230.2,155.3 230.7,156.8 C231.2,158.3 232.0,171.8 232.7,172.7 C233.4,173.6 234.9,166.2 235.6,162.8 C236.3,159.4 237.0,152.9 237.6,149.9 C238.2,146.9 239.1,143.8 239.6,142.9 C240.1,142.0 240.8,144.0 241.2,143.9 C241.6,143.8 242.2,141.3 242.6,142.5 C243.0,143.7 243.6,151.5 244.0,151.9 C244.4,152.3 245.1,143.0 245.6,144.9 C246.1,146.8 246.9,160.0 247.5,164.8 C248.1,169.6 248.8,173.6 249.5,176.7 C250.2,179.8 251.7,185.6 252.5,185.6 C253.3,185.6 254.4,176.2 255.1,176.7 C255.8,177.1 256.5,187.7 257.1,188.6 C257.7,189.5 258.8,181.7 259.4,182.6 C260.0,183.5 260.6,191.4 261.4,194.5 C262.1,197.6 263.5,200.8 264.4,203.5 C265.3,206.2 266.7,210.9 267.4,212.4 C268.1,213.9 268.3,214.0 269.0,213.8 C269.7,213.6 271.2,211.6 272.0,211.0 C272.8,210.4 273.3,210.3 274.0,209.5 C274.7,208.7 276.1,205.5 276.7,205.6 C277.3,205.7 277.5,210.7 278.0,210.0 C278.5,209.3 279.3,201.3 279.8,201.0 C280.3,200.7 280.9,206.3 281.5,208.0 C282.1,209.7 282.3,211.5 283.7,212.6 C285.1,213.7 289.2,214.8 290.7,215.0 C292.2,215.2 293.1,214.5 294.0,214.0 C294.9,213.5 296.0,211.4 296.6,211.4 C297.2,211.4 297.5,214.2 298.0,214.0 C298.5,213.8 299.4,210.0 300.0,210.3 C300.6,210.6 301.3,214.6 302.0,216.0 C302.7,217.4 301.4,219.1 304.8,219.6 C308.2,220.1 321.6,219.6 324.6,219.6" fill="none" stroke="#6e6e6e" stroke-width="0.6"/>
<line x1="14" y1="226.6" x2="324" y2="226.6" stroke="#b5b5b5" stroke-width="0.6"/>
<text x="27.5" y="229.6" font-size="2.7" fill="#777" text-anchor="middle" font-family="Liberation Sans">5.6</text>
<text x="40.5" y="229.6" font-size="2.7" fill="#777" text-anchor="middle" font-family="Liberation Sans">5.4</text>
<text x="53.6" y="229.6" font-size="2.7" fill="#777" text-anchor="middle" font-family="Liberation Sans">5.2</text>
<text x="66.6" y="229.6" font-size="2.7" fill="#777" text-anchor="middle" font-family="Liberation Sans">5.0</text>
<text x="79.6" y="229.6" font-size="2.7" fill="#777" text-anchor="middle" font-family="Liberation Sans">4.8</text>
<text x="92.6" y="229.6" font-size="2.7" fill="#777" text-anchor="middle" font-family="Liberation Sans">4.6</text>
<text x="105.7" y="229.6" font-size="2.7" fill="#777" text-anchor="middle" font-family="Liberation Sans">4.4</text>
<text x="118.7" y="229.6" font-size="2.7" fill="#777" text-anchor="middle" font-family="Liberation Sans">4.2</text>
<text x="131.7" y="229.6" font-size="2.7" fill="#777" text-anchor="middle" font-family="Liberation Sans">4.0</text>
<text x="144.8" y="229.6" font-size="2.7" fill="#777" text-anchor="middle" font-family="Liberation Sans">3.8</text>
<text x="157.8" y="229.6" font-size="2.7" fill="#777" text-anchor="middle" font-family="Liberation Sans">3.6</text>
<text x="170.8" y="229.6" font-size="2.7" fill="#777" text-anchor="middle" font-family="Liberation Sans">3.4</text>
<text x="183.9" y="229.6" font-size="2.7" fill="#777" text-anchor="middle" font-family="Liberation Sans">3.2</text>
<text x="196.9" y="229.6" font-size="2.7" fill="#777" text-anchor="middle" font-family="Liberation Sans">3.0</text>
<text x="209.9" y="229.6" font-size="2.7" fill="#777" text-anchor="middle" font-family="Liberation Sans">2.8</text>
<text x="222.9" y="229.6" font-size="2.7" fill="#777" text-anchor="middle" font-family="Liberation Sans">2.6</text>
<text x="236.0" y="229.6" font-size="2.7" fill="#777" text-anchor="middle" font-family="Liberation Sans">2.4</text>
<text x="249.0" y="229.6" font-size="2.7" fill="#777" text-anchor="middle" font-family="Liberation Sans">2.2</text>
<text x="262.0" y="229.6" font-size="2.7" fill="#777" text-anchor="middle" font-family="Liberation Sans">2.0</text>
<text x="275.1" y="229.6" font-size="2.7" fill="#777" text-anchor="middle" font-family="Liberation Sans">1.8</text>
<text x="288.1" y="229.6" font-size="2.7" fill="#777" text-anchor="middle" font-family="Liberation Sans">1.6</text>
<text x="301.1" y="229.6" font-size="2.7" fill="#777" text-anchor="middle" font-family="Liberation Sans">1.4</text>
<text x="314.2" y="229.6" font-size="2.7" fill="#777" text-anchor="middle" font-family="Liberation Sans">1.2</text>
<text x="322.8" y="229.6" font-size="2.7" fill="#777" text-anchor="middle" font-family="Liberation Sans">ppm</text>
<path d="M38.0,230.2 Q39.5,232 46.8,232 Q54.1,232 55.6,230.2" fill="none" stroke="#9a9a9a" stroke-width="0.5"/>
<rect x="43.2" y="232.3" width="3.6" height="3.8" fill="#e2e2e2" stroke="#8c8c8c" stroke-width="0.45"/>
<line x1="44.4" y1="233.2" x2="44.4" y2="235.2" stroke="#999" stroke-width="0.35"/>
<line x1="45.6" y1="233.2" x2="45.6" y2="235.2" stroke="#999" stroke-width="0.35"/>
<path d="M59.0,230.2 Q60.5,232 73.0,232 Q85.6,232 87.1,230.2" fill="none" stroke="#9a9a9a" stroke-width="0.5"/>
<rect x="70.8" y="232.3" width="3.6" height="3.8" fill="#e2e2e2" stroke="#8c8c8c" stroke-width="0.45"/>
<line x1="72.0" y1="233.2" x2="72.0" y2="235.2" stroke="#999" stroke-width="0.35"/>
<line x1="73.2" y1="233.2" x2="73.2" y2="235.2" stroke="#999" stroke-width="0.35"/>
<path d="M93.0,230.2 Q94.5,232 97.7,232 Q100.8,232 102.3,230.2" fill="none" stroke="#9a9a9a" stroke-width="0.5"/>
<rect x="96.5" y="232.3" width="3.6" height="3.8" fill="#e2e2e2" stroke="#8c8c8c" stroke-width="0.45"/>
<line x1="97.7" y1="233.2" x2="97.7" y2="235.2" stroke="#999" stroke-width="0.35"/>
<line x1="98.9" y1="233.2" x2="98.9" y2="235.2" stroke="#999" stroke-width="0.35"/>
<path d="M103.5,230.2 Q105.0,232 107.0,232 Q109.0,232 110.5,230.2" fill="none" stroke="#9a9a9a" stroke-width="0.5"/>
<rect x="106.3" y="232.3" width="3.6" height="3.8" fill="#e2e2e2" stroke="#8c8c8c" stroke-width="0.45"/>
<line x1="107.5" y1="233.2" x2="107.5" y2="235.2" stroke="#999" stroke-width="0.35"/>
<line x1="108.7" y1="233.2" x2="108.7" y2="235.2" stroke="#999" stroke-width="0.35"/>
<path d="M139.7,230.2 Q141.2,232 145.6,232 Q149.9,232 151.4,230.2" fill="none" stroke="#9a9a9a" stroke-width="0.5"/>
<rect x="143.2" y="232.3" width="3.6" height="3.8" fill="#e2e2e2" stroke="#8c8c8c" stroke-width="0.45"/>
<line x1="144.4" y1="233.2" x2="144.4" y2="235.2" stroke="#999" stroke-width="0.35"/>
<line x1="145.6" y1="233.2" x2="145.6" y2="235.2" stroke="#999" stroke-width="0.35"/>
<path d="M174.6,230.2 Q176.1,232 183.6,232 Q191.2,232 192.7,230.2" fill="none" stroke="#9a9a9a" stroke-width="0.5"/>
<rect x="180.1" y="232.3" width="3.6" height="3.8" fill="#e2e2e2" stroke="#8c8c8c" stroke-width="0.45"/>
<line x1="181.3" y1="233.2" x2="181.3" y2="235.2" stroke="#999" stroke-width="0.35"/>
<line x1="182.5" y1="233.2" x2="182.5" y2="235.2" stroke="#999" stroke-width="0.35"/>
<path d="M192.7,230.2 Q194.2,232 203.6,232 Q212.9,232 214.4,230.2" fill="none" stroke="#9a9a9a" stroke-width="0.5"/>
<rect x="201.8" y="232.3" width="3.6" height="3.8" fill="#e2e2e2" stroke="#8c8c8c" stroke-width="0.45"/>
<line x1="203.0" y1="233.2" x2="203.0" y2="235.2" stroke="#999" stroke-width="0.35"/>
<line x1="204.2" y1="233.2" x2="204.2" y2="235.2" stroke="#999" stroke-width="0.35"/>
<path d="M214.4,230.2 Q215.9,232 223.4,232 Q231.0,232 232.5,230.2" fill="none" stroke="#9a9a9a" stroke-width="0.5"/>
<rect x="224.6" y="232.3" width="3.6" height="3.8" fill="#e2e2e2" stroke="#8c8c8c" stroke-width="0.45"/>
<line x1="225.8" y1="233.2" x2="225.8" y2="235.2" stroke="#999" stroke-width="0.35"/>
<line x1="227.0" y1="233.2" x2="227.0" y2="235.2" stroke="#999" stroke-width="0.35"/>
<path d="M232.5,230.2 Q234.0,232 243.3,232 Q252.7,232 254.2,230.2" fill="none" stroke="#9a9a9a" stroke-width="0.5"/>
<rect x="242.7" y="232.3" width="3.6" height="3.8" fill="#e2e2e2" stroke="#8c8c8c" stroke-width="0.45"/>
<line x1="243.9" y1="233.2" x2="243.9" y2="235.2" stroke="#999" stroke-width="0.35"/>
<line x1="245.1" y1="233.2" x2="245.1" y2="235.2" stroke="#999" stroke-width="0.35"/>
<path d="M254.2,230.2 Q255.7,232 262.0,232 Q268.3,232 269.8,230.2" fill="none" stroke="#9a9a9a" stroke-width="0.5"/>
<rect x="259.6" y="232.3" width="3.6" height="3.8" fill="#e2e2e2" stroke="#8c8c8c" stroke-width="0.45"/>
<line x1="260.8" y1="233.2" x2="260.8" y2="235.2" stroke="#999" stroke-width="0.35"/>
<line x1="262.0" y1="233.2" x2="262.0" y2="235.2" stroke="#999" stroke-width="0.35"/>
<path d="M269.8,230.2 Q271.3,232 278.9,232 Q286.4,232 287.9,230.2" fill="none" stroke="#9a9a9a" stroke-width="0.5"/>
<rect x="278.9" y="232.3" width="3.6" height="3.8" fill="#e2e2e2" stroke="#8c8c8c" stroke-width="0.45"/>
<line x1="280.1" y1="233.2" x2="280.1" y2="235.2" stroke="#999" stroke-width="0.35"/>
<line x1="281.3" y1="233.2" x2="281.3" y2="235.2" stroke="#999" stroke-width="0.35"/>
<path d="M287.9,230.2 Q289.4,232 295.1,232 Q300.8,232 302.3,230.2" fill="none" stroke="#9a9a9a" stroke-width="0.5"/>
<rect x="296.9" y="232.3" width="3.6" height="3.8" fill="#e2e2e2" stroke="#8c8c8c" stroke-width="0.45"/>
<line x1="298.1" y1="233.2" x2="298.1" y2="235.2" stroke="#999" stroke-width="0.35"/>
<line x1="299.3" y1="233.2" x2="299.3" y2="235.2" stroke="#999" stroke-width="0.35"/>
<rect x="347" y="1.7" width="336" height="236.3" fill="#f3f3f3"/>
<rect x="359.3" y="26.2" width="309" height="197.8" fill="#ffffff"/>
<line x1="359.3" y1="26.5" x2="668.3" y2="26.5" stroke="#d8d8d8" stroke-width="1.5"/>
<line x1="359.3" y1="26.2" x2="359.3" y2="224" stroke="#c4c4c4" stroke-width="1.1"/>
<line x1="359.3" y1="224" x2="668.6" y2="224" stroke="#333" stroke-width="0.7"/>
<line x1="668.6" y1="26.2" x2="668.6" y2="224" stroke="#333" stroke-width="0.7"/>
<line x1="362.1" y1="224" x2="362.1" y2="225.8" stroke="#333" stroke-width="0.7"/>
<line x1="371.3" y1="224" x2="371.3" y2="225.8" stroke="#333" stroke-width="0.7"/>
<line x1="380.5" y1="224" x2="380.5" y2="225.8" stroke="#333" stroke-width="0.7"/>
<line x1="389.7" y1="224" x2="389.7" y2="227.0" stroke="#333" stroke-width="0.7"/>
<line x1="398.9" y1="224" x2="398.9" y2="225.8" stroke="#333" stroke-width="0.7"/>
<line x1="408.1" y1="224" x2="408.1" y2="225.8" stroke="#333" stroke-width="0.7"/>
<line x1="417.3" y1="224" x2="417.3" y2="225.8" stroke="#333" stroke-width="0.7"/>
<line x1="426.5" y1="224" x2="426.5" y2="225.8" stroke="#333" stroke-width="0.7"/>
<line x1="435.7" y1="224" x2="435.7" y2="227.0" stroke="#333" stroke-width="0.7"/>
<line x1="444.9" y1="224" x2="444.9" y2="225.8" stroke="#333" stroke-width="0.7"/>
<line x1="454.1" y1="224" x2="454.1" y2="225.8" stroke="#333" stroke-width="0.7"/>
<line x1="463.3" y1="224" x2="463.3" y2="225.8" stroke="#333" stroke-width="0.7"/>
<line x1="472.5" y1="224" x2="472.5" y2="225.8" stroke="#333" stroke-width="0.7"/>
<line x1="481.7" y1="224" x2="481.7" y2="227.0" stroke="#333" stroke-width="0.7"/>
<line x1="490.9" y1="224" x2="490.9" y2="225.8" stroke="#333" stroke-width="0.7"/>
<line x1="500.1" y1="224" x2="500.1" y2="225.8" stroke="#333" stroke-width="0.7"/>
<line x1="509.3" y1="224" x2="509.3" y2="225.8" stroke="#333" stroke-width="0.7"/>
<line x1="518.5" y1="224" x2="518.5" y2="225.8" stroke="#333" stroke-width="0.7"/>
<line x1="527.7" y1="224" x2="527.7" y2="227.0" stroke="#333" stroke-width="0.7"/>
<line x1="536.9" y1="224" x2="536.9" y2="225.8" stroke="#333" stroke-width="0.7"/>
<line x1="546.1" y1="224" x2="546.1" y2="225.8" stroke="#333" stroke-width="0.7"/>
<line x1="555.3" y1="224" x2="555.3" y2="225.8" stroke="#333" stroke-width="0.7"/>
<line x1="564.5" y1="224" x2="564.5" y2="225.8" stroke="#333" stroke-width="0.7"/>
<line x1="573.7" y1="224" x2="573.7" y2="227.0" stroke="#333" stroke-width="0.7"/>
<line x1="582.9" y1="224" x2="582.9" y2="225.8" stroke="#333" stroke-width="0.7"/>
<line x1="592.1" y1="224" x2="592.1" y2="225.8" stroke="#333" stroke-width="0.7"/>
<line x1="601.3" y1="224" x2="601.3" y2="225.8" stroke="#333" stroke-width="0.7"/>
<line x1="610.5" y1="224" x2="610.5" y2="225.8" stroke="#333" stroke-width="0.7"/>
<line x1="619.7" y1="224" x2="619.7" y2="227.0" stroke="#333" stroke-width="0.7"/>
<line x1="628.9" y1="224" x2="628.9" y2="225.8" stroke="#333" stroke-width="0.7"/>
<line x1="638.1" y1="224" x2="638.1" y2="225.8" stroke="#333" stroke-width="0.7"/>
<line x1="647.3" y1="224" x2="647.3" y2="225.8" stroke="#333" stroke-width="0.7"/>
<text x="389.7" y="235" font-size="6.3" text-anchor="middle" font-family="Liberation Sans" font-weight="bold" fill="#111" stroke="#111" stroke-width="0.3">6.0</text>
<text x="435.7" y="235" font-size="6.3" text-anchor="middle" font-family="Liberation Sans" font-weight="bold" fill="#111" stroke="#111" stroke-width="0.3">5.5</text>
<text x="481.7" y="235" font-size="6.3" text-anchor="middle" font-family="Liberation Sans" font-weight="bold" fill="#111" stroke="#111" stroke-width="0.3">5.0</text>
<text x="527.7" y="235" font-size="6.3" text-anchor="middle" font-family="Liberation Sans" font-weight="bold" fill="#111" stroke="#111" stroke-width="0.3">4.5</text>
<text x="573.7" y="235" font-size="6.3" text-anchor="middle" font-family="Liberation Sans" font-weight="bold" fill="#111" stroke="#111" stroke-width="0.3">4.0</text>
<text x="619.7" y="235" font-size="6.3" text-anchor="middle" font-family="Liberation Sans" font-weight="bold" fill="#111" stroke="#111" stroke-width="0.3">3.5</text>
<text x="654.9" y="235" font-size="6.3" text-anchor="middle" font-family="Liberation Sans" font-weight="bold" fill="#111" stroke="#111" stroke-width="0.3">F2 [ppm]</text>
<line x1="668.6" y1="32.4" x2="670.8" y2="32.4" stroke="#333" stroke-width="0.7"/>
<line x1="668.6" y1="38.9" x2="670.8" y2="38.9" stroke="#333" stroke-width="0.7"/>
<line x1="668.6" y1="45.4" x2="670.8" y2="45.4" stroke="#333" stroke-width="0.7"/>
<line x1="668.6" y1="51.9" x2="670.8" y2="51.9" stroke="#333" stroke-width="0.7"/>
<line x1="668.6" y1="58.4" x2="670.8" y2="58.4" stroke="#333" stroke-width="0.7"/>
<line x1="668.6" y1="64.9" x2="670.8" y2="64.9" stroke="#333" stroke-width="0.7"/>
<line x1="668.6" y1="71.4" x2="670.8" y2="71.4" stroke="#333" stroke-width="0.7"/>
<line x1="668.6" y1="77.8" x2="670.8" y2="77.8" stroke="#333" stroke-width="0.7"/>
<line x1="668.6" y1="84.3" x2="670.8" y2="84.3" stroke="#333" stroke-width="0.7"/>
<line x1="668.6" y1="90.8" x2="670.8" y2="90.8" stroke="#333" stroke-width="0.7"/>
<line x1="668.6" y1="97.3" x2="670.8" y2="97.3" stroke="#333" stroke-width="0.7"/>
<line x1="668.6" y1="103.8" x2="670.8" y2="103.8" stroke="#333" stroke-width="0.7"/>
<line x1="668.6" y1="110.3" x2="670.8" y2="110.3" stroke="#333" stroke-width="0.7"/>
<line x1="668.6" y1="116.8" x2="670.8" y2="116.8" stroke="#333" stroke-width="0.7"/>
<line x1="668.6" y1="123.3" x2="670.8" y2="123.3" stroke="#333" stroke-width="0.7"/>
<line x1="668.6" y1="129.8" x2="670.8" y2="129.8" stroke="#333" stroke-width="0.7"/>
<line x1="668.6" y1="136.3" x2="670.8" y2="136.3" stroke="#333" stroke-width="0.7"/>
<line x1="668.6" y1="142.7" x2="670.8" y2="142.7" stroke="#333" stroke-width="0.7"/>
<line x1="668.6" y1="149.2" x2="670.8" y2="149.2" stroke="#333" stroke-width="0.7"/>
<line x1="668.6" y1="155.7" x2="670.8" y2="155.7" stroke="#333" stroke-width="0.7"/>
<line x1="668.6" y1="162.2" x2="670.8" y2="162.2" stroke="#333" stroke-width="0.7"/>
<line x1="668.6" y1="168.7" x2="670.8" y2="168.7" stroke="#333" stroke-width="0.7"/>
<line x1="668.6" y1="175.2" x2="670.8" y2="175.2" stroke="#333" stroke-width="0.7"/>
<line x1="668.6" y1="181.7" x2="670.8" y2="181.7" stroke="#333" stroke-width="0.7"/>
<line x1="668.6" y1="188.2" x2="670.8" y2="188.2" stroke="#333" stroke-width="0.7"/>
<line x1="668.6" y1="194.7" x2="670.8" y2="194.7" stroke="#333" stroke-width="0.7"/>
<line x1="668.6" y1="201.2" x2="670.8" y2="201.2" stroke="#333" stroke-width="0.7"/>
<line x1="668.6" y1="207.6" x2="670.8" y2="207.6" stroke="#333" stroke-width="0.7"/>
<line x1="668.6" y1="214.1" x2="670.8" y2="214.1" stroke="#333" stroke-width="0.7"/>
<line x1="668.6" y1="220.6" x2="670.8" y2="220.6" stroke="#333" stroke-width="0.7"/>
<text transform="translate(678.3,74.6) rotate(-90)" font-size="6.3" text-anchor="middle" font-family="Liberation Sans" font-weight="bold" fill="#111" stroke="#111" stroke-width="0.3">60</text>
<text transform="translate(678.3,107.0) rotate(-90)" font-size="6.3" text-anchor="middle" font-family="Liberation Sans" font-weight="bold" fill="#111" stroke="#111" stroke-width="0.3">70</text>
<text transform="translate(678.3,139.5) rotate(-90)" font-size="6.3" text-anchor="middle" font-family="Liberation Sans" font-weight="bold" fill="#111" stroke="#111" stroke-width="0.3">80</text>
<text transform="translate(678.3,171.9) rotate(-90)" font-size="6.3" text-anchor="middle" font-family="Liberation Sans" font-weight="bold" fill="#111" stroke="#111" stroke-width="0.3">90</text>
<text transform="translate(678.3,204.4) rotate(-90)" font-size="6.3" text-anchor="middle" font-family="Liberation Sans" font-weight="bold" fill="#111" stroke="#111" stroke-width="0.3">100</text>
<text transform="translate(678.3,40.2) rotate(-90)" font-size="6.3" text-anchor="middle" font-family="Liberation Sans" font-weight="bold" fill="#111" stroke="#111" stroke-width="0.3">F1 [ppm]</text>
<path d="M359.3,24.3 C369.4,24.3 396.6,24.2 420.0,24.2 C443.4,24.2 483.0,24.2 500.0,24.1 C517.0,24.0 517.5,24.1 522.0,23.6 C526.5,23.1 525.7,21.5 527.0,21.0 C528.3,20.5 528.6,20.3 529.6,20.4 C530.6,20.5 531.3,21.0 533.0,21.5 C534.7,22.0 535.5,23.3 540.0,23.6 C544.5,23.9 554.7,23.5 560.0,23.2 C565.3,22.9 569.2,22.4 572.0,22.0 C574.8,21.6 575.3,21.0 576.6,20.8 C577.9,20.6 578.9,21.2 580.0,20.6 C581.1,20.0 582.0,18.8 583.0,17.0 C584.0,15.2 585.0,11.8 586.0,10.0 C587.0,8.2 588.1,6.4 588.9,6.1 C589.7,5.8 590.1,6.8 591.0,8.0 C591.9,9.2 593.0,11.8 594.0,13.0 C595.0,14.2 596.2,14.8 597.0,15.3 C597.8,15.8 598.3,15.6 599.0,15.8 C599.7,16.0 600.3,16.0 601.0,16.5 C601.7,17.0 602.3,18.4 603.0,19.0 C603.7,19.6 604.6,20.9 605.3,20.4 C606.0,19.9 606.4,18.1 607.0,16.0 C607.6,13.9 608.3,10.2 609.0,8.0 C609.7,5.8 610.7,3.6 611.4,3.1 C612.1,2.6 612.4,3.7 613.0,5.0 C613.6,6.3 614.2,8.9 615.0,11.0 C615.8,13.1 617.2,15.9 618.0,17.5 C618.8,19.1 619.2,19.7 620.0,20.5 C620.8,21.3 620.9,22.0 622.6,22.5 C624.3,23.0 626.3,23.2 630.0,23.5 C633.7,23.8 640.0,24.0 645.0,24.0 C650.0,24.0 656.2,23.4 660.0,23.4 C663.8,23.4 666.3,23.9 667.6,24.0" fill="none" stroke="#8c8ce6" stroke-width="0.6"/>
<path d="M356.3,28.3 C356.3,28.6 356.8,31.6 356.3,32.0 C355.8,32.4 351.9,33.3 350.5,33.5 C349.1,33.7 340.6,34.6 339.9,34.8 C339.1,35.0 340.5,35.9 341.5,36.1 C342.5,36.3 350.2,37.1 351.4,37.3 C352.6,37.5 355.6,38.4 356.0,38.9 C356.4,39.4 356.3,42.1 356.3,43.0 C356.3,43.9 356.1,48.5 356.0,49.5 C355.9,50.5 355.9,54.6 355.5,55.3 C355.1,56.0 352.3,57.2 351.4,57.7 C350.5,58.2 345.4,60.6 345.1,61.0 C344.8,61.4 347.4,62.7 348.1,63.0 C348.8,63.3 352.3,64.7 353.0,65.1 C353.7,65.5 355.8,67.3 356.0,67.9 C356.2,68.5 356.2,71.9 356.0,72.5 C355.8,73.1 353.8,74.5 353.0,74.9 C352.2,75.3 347.4,76.7 346.5,77.0 C345.6,77.3 342.5,78.0 342.4,78.2 C342.3,78.4 344.1,79.5 344.8,79.8 C345.5,80.1 349.7,81.2 350.5,81.5 C351.3,81.8 353.9,83.2 354.3,83.9 C354.7,84.7 354.9,89.6 355.0,90.5 C355.1,91.4 355.4,91.7 355.5,95.0 C355.6,98.3 355.7,122.9 355.7,130.0 C355.7,137.1 356.0,172.2 356.0,180.0 C356.0,187.8 356.2,220.3 356.2,224.0" fill="none" stroke="#a0a0ec" stroke-width="0.6" stroke-linejoin="round"/>
<defs>
<radialGradient id="tg" cx="50%" cy="45%" r="55%"><stop offset="0" stop-color="#e6f6f3"/><stop offset="0.5" stop-color="#a6dbd4"/><stop offset="0.85" stop-color="#62b9ae"/><stop offset="1" stop-color="#349488"/></radialGradient>
<radialGradient id="tgl" cx="50%" cy="45%" r="55%"><stop offset="0" stop-color="#f2faf9"/><stop offset="0.6" stop-color="#c6e8e3"/><stop offset="1" stop-color="#86c9c1"/></radialGradient>
<radialGradient id="bg" cx="50%" cy="45%" r="55%"><stop offset="0" stop-color="#f0f0fe"/><stop offset="0.45" stop-color="#c0c0f6"/><stop offset="0.8" stop-color="#7878ea"/><stop offset="1" stop-color="#3636d2"/></radialGradient>
<radialGradient id="bgd" cx="50%" cy="40%" r="60%"><stop offset="0" stop-color="#a4a4f2"/><stop offset="0.5" stop-color="#6c6ce8"/><stop offset="1" stop-color="#3030cc"/></radialGradient>
<radialGradient id="bgl" cx="50%" cy="45%" r="55%"><stop offset="0" stop-color="#f2f2fd"/><stop offset="0.6" stop-color="#d0d0f8"/><stop offset="1" stop-color="#9a9aec"/></radialGradient>
</defs>
<path d="M488.0,33.0 C488.8,32.4 492.2,32.3 495.0,32.2 C497.8,32.1 502.5,32.2 505.0,32.4 C507.5,32.6 509.3,32.9 510.0,33.5 C510.7,34.1 510.7,35.3 509.0,35.8 C507.3,36.2 503.2,36.2 500.0,36.2 C496.8,36.2 492.0,36.5 490.0,36.0 C488.0,35.5 487.2,33.6 488.0,33.0Z" fill="url(#bgl)" stroke="#8f8fe8" stroke-width="0.60"/>
<ellipse cx="484.5" cy="33.2" rx="1.4" ry="1.2" transform="rotate(0.0 484.5 33.2)" fill="none" stroke="#8f8fe8" stroke-width="0.70"/>
<path d="M479.0,42.5 C478.8,41.7 480.8,40.4 483.0,40.0 C485.2,39.6 488.7,40.3 492.0,40.3 C495.3,40.3 500.2,39.9 503.0,40.0 C505.8,40.1 507.8,40.4 509.0,41.0 C510.2,41.6 510.7,42.8 510.0,43.5 C509.3,44.2 507.5,45.0 505.0,45.2 C502.5,45.5 498.5,45.0 495.0,45.0 C491.5,45.0 486.7,45.4 484.0,45.0 C481.3,44.6 479.2,43.3 479.0,42.5Z" fill="url(#tgl)" stroke="#7cc4bc" stroke-width="0.60"/>
<ellipse cx="513.0" cy="43.0" rx="1.0" ry="1.2" transform="rotate(0.0 513.0 43.0)" fill="none" stroke="#7cc4bc" stroke-width="0.70"/>
<path d="M462.0,53.3 C462.0,52.5 466.2,51.3 470.0,50.8 C473.8,50.3 480.0,50.7 485.0,50.5 C490.0,50.3 496.2,49.8 500.0,49.8 C503.8,49.8 506.2,50.0 508.0,50.5 C509.8,51.0 510.8,52.0 511.0,53.0 C511.2,54.0 510.8,55.8 509.0,56.5 C507.2,57.2 504.0,57.1 500.0,57.0 C496.0,56.9 490.0,56.2 485.0,56.0 C480.0,55.8 473.8,56.2 470.0,55.8 C466.2,55.3 462.0,54.1 462.0,53.3Z" fill="url(#tgl)" stroke="#7cc4bc" stroke-width="0.60"/>
<path d="M489.0,53.0 C489.3,52.2 491.8,51.2 494.0,50.8 C496.2,50.3 499.6,50.3 502.0,50.3 C504.4,50.3 507.1,50.5 508.5,51.0 C509.9,51.5 510.5,52.6 510.5,53.5 C510.5,54.4 510.2,55.8 508.5,56.3 C506.8,56.8 502.8,56.9 500.0,56.8 C497.2,56.7 493.8,56.4 492.0,55.8 C490.2,55.2 488.7,53.8 489.0,53.0Z" fill="url(#tg)" stroke="#3c9e94" stroke-width="0.60"/>
<path d="M492.2,53.1 C492.5,52.5 494.3,51.9 495.8,51.5 C497.4,51.2 499.9,51.2 501.6,51.2 C503.3,51.2 505.3,51.3 506.3,51.7 C507.3,52.1 507.7,52.8 507.7,53.5 C507.7,54.1 507.5,55.1 506.3,55.5 C505.0,55.9 502.1,55.9 500.2,55.9 C498.2,55.8 495.7,55.6 494.4,55.1 C493.1,54.7 492.0,53.7 492.2,53.1Z" fill="none" stroke="#6fbdb3" stroke-width="0.45"/>
<path d="M495.7,53.3 C495.8,52.9 496.9,52.5 497.8,52.3 C498.7,52.1 500.2,52.1 501.2,52.1 C502.2,52.1 503.3,52.2 503.9,52.4 C504.5,52.6 504.7,53.1 504.7,53.5 C504.7,53.8 504.6,54.4 503.9,54.6 C503.2,54.9 501.5,54.9 500.3,54.8 C499.2,54.8 497.7,54.7 497.0,54.4 C496.2,54.2 495.6,53.6 495.7,53.3Z" fill="none" stroke="#9ed3cc" stroke-width="0.45"/>
<ellipse cx="512.5" cy="52.5" rx="1.6" ry="3.8" transform="rotate(0.0 512.5 52.5)" fill="none" stroke="#8f8fe8" stroke-width="0.70"/>
<ellipse cx="504.3" cy="71.1" rx="2.5" ry="2.0" transform="rotate(0.0 504.3 71.1)" fill="none" stroke="#8f8fe8" stroke-width="0.80"/>
<ellipse cx="509.0" cy="71.0" rx="0.8" ry="0.8" transform="rotate(0.0 509.0 71.0)" fill="none" stroke="#7cc4bc" stroke-width="0.50"/>
<ellipse cx="509.0" cy="76.0" rx="0.8" ry="0.8" transform="rotate(0.0 509.0 76.0)" fill="none" stroke="#8f8fe8" stroke-width="0.50"/>
<path d="M526.0,33.5 C525.8,32.8 528.3,31.8 530.0,31.5 C531.7,31.2 534.2,31.2 536.0,31.5 C537.8,31.8 540.5,32.3 541.0,33.0 C541.5,33.7 540.7,35.3 539.0,35.8 C537.3,36.3 533.2,36.4 531.0,36.0 C528.8,35.6 526.2,34.2 526.0,33.5Z" fill="url(#tgl)" stroke="#7cc4bc" stroke-width="0.70"/>
<ellipse cx="545.0" cy="33.5" rx="1.4" ry="1.2" transform="rotate(0.0 545.0 33.5)" fill="none" stroke="#7cc4bc" stroke-width="0.70"/>
<path d="M524.5,42.5 C524.3,41.5 525.6,40.0 527.0,39.5 C528.4,39.0 531.2,39.0 533.0,39.3 C534.8,39.6 537.0,40.5 537.5,41.5 C538.0,42.5 537.6,44.6 536.0,45.3 C534.4,46.0 529.9,46.0 528.0,45.5 C526.1,45.0 524.7,43.5 524.5,42.5Z" fill="url(#bg)" stroke="#4646dc" stroke-width="0.80"/>
<path d="M526.3,42.4 C526.2,41.7 527.1,40.7 528.1,40.3 C529.1,39.9 531.2,39.9 532.4,40.1 C533.7,40.4 535.3,41.0 535.7,41.7 C536.0,42.4 535.7,44.0 534.6,44.5 C533.5,44.9 530.2,44.9 528.8,44.6 C527.5,44.3 526.4,43.2 526.3,42.4Z" fill="none" stroke="#8c8cec" stroke-width="0.45"/>
<path d="M528.3,42.4 C528.2,41.9 528.7,41.3 529.3,41.1 C529.9,40.9 531.1,40.9 531.8,41.0 C532.6,41.2 533.5,41.5 533.7,41.9 C533.9,42.4 533.8,43.3 533.1,43.5 C532.4,43.8 530.5,43.8 529.7,43.6 C528.9,43.4 528.3,42.8 528.3,42.4Z" fill="none" stroke="#b4b4f4" stroke-width="0.45"/>
<path d="M540.0,42.0 C540.0,40.7 540.3,38.9 542.0,38.2 C543.7,37.5 547.3,37.6 550.0,37.6 C552.7,37.6 556.1,37.9 558.0,38.5 C559.9,39.1 561.3,40.3 561.5,41.5 C561.7,42.7 560.9,44.7 559.0,45.5 C557.1,46.3 552.8,46.2 550.0,46.3 C547.2,46.4 543.7,46.7 542.0,46.0 C540.3,45.3 540.0,43.3 540.0,42.0Z" fill="url(#tg)" stroke="#3c9e94" stroke-width="0.90"/>
<path d="M542.9,42.0 C542.9,41.1 543.1,39.8 544.3,39.2 C545.5,38.7 548.2,38.8 550.1,38.8 C552.0,38.9 554.5,39.0 555.8,39.5 C557.2,39.9 558.2,40.8 558.4,41.6 C558.5,42.5 557.9,43.9 556.6,44.5 C555.2,45.1 552.1,45.0 550.1,45.1 C548.0,45.1 545.5,45.4 544.3,44.9 C543.1,44.4 542.9,42.9 542.9,42.0Z" fill="none" stroke="#6fbdb3" stroke-width="0.45"/>
<path d="M546.0,42.0 C546.0,41.4 546.1,40.7 546.8,40.4 C547.5,40.1 549.1,40.1 550.2,40.1 C551.3,40.1 552.7,40.2 553.5,40.5 C554.3,40.8 554.9,41.3 555.0,41.8 C555.1,42.3 554.8,43.1 554.0,43.4 C553.2,43.8 551.4,43.7 550.2,43.8 C549.0,43.8 547.5,44.0 546.8,43.7 C546.1,43.4 546.0,42.5 546.0,42.0Z" fill="none" stroke="#9ed3cc" stroke-width="0.45"/>
<path d="M528.0,48.8 C528.3,48.2 529.7,47.5 531.0,47.3 C532.3,47.1 534.9,47.2 536.0,47.6 C537.1,48.0 537.8,49.0 537.5,49.5 C537.2,50.0 535.4,50.7 534.0,50.9 C532.6,51.1 530.0,51.0 529.0,50.6 C528.0,50.2 527.7,49.3 528.0,48.8Z" fill="url(#tgl)" stroke="#7cc4bc" stroke-width="0.70"/>
<path d="M523.8,53.5 C523.6,52.2 525.5,50.6 527.0,50.0 C528.5,49.4 531.2,49.4 533.0,50.0 C534.8,50.6 537.0,52.2 537.5,53.5 C538.0,54.8 537.6,56.8 536.0,57.5 C534.4,58.2 530.0,58.5 528.0,57.8 C526.0,57.1 524.0,54.8 523.8,53.5Z" fill="url(#bg)" stroke="#4646dc" stroke-width="0.90"/>
<path d="M525.8,53.6 C525.7,52.6 527.0,51.5 528.1,51.0 C529.2,50.6 531.1,50.6 532.4,51.0 C533.7,51.5 535.3,52.7 535.6,53.6 C536.0,54.5 535.7,55.9 534.6,56.4 C533.4,57.0 530.3,57.1 528.8,56.7 C527.3,56.2 525.9,54.5 525.8,53.6Z" fill="none" stroke="#8c8cec" stroke-width="0.45"/>
<path d="M527.9,53.6 C527.8,53.1 528.6,52.4 529.3,52.2 C529.9,51.9 531.0,51.9 531.8,52.2 C532.5,52.4 533.5,53.1 533.7,53.6 C533.9,54.2 533.7,55.0 533.0,55.3 C532.4,55.6 530.5,55.7 529.7,55.4 C528.8,55.2 528.0,54.2 527.9,53.6Z" fill="none" stroke="#b4b4f4" stroke-width="0.45"/>
<ellipse cx="523.5" cy="59.0" rx="0.9" ry="1.5" transform="rotate(0.0 523.5 59.0)" fill="none" stroke="#8f8fe8" stroke-width="0.60"/>
<path d="M538.8,52.5 C539.0,51.0 540.1,49.8 542.0,49.3 C543.9,48.8 547.3,49.0 550.0,49.5 C552.7,50.0 555.7,51.0 558.0,52.0 C560.3,53.0 562.5,54.3 564.0,55.5 C565.5,56.7 566.7,57.8 567.0,59.0 C567.3,60.2 567.3,62.1 566.0,62.5 C564.7,62.9 561.7,62.0 559.0,61.5 C556.3,61.0 553.0,60.3 550.0,59.8 C547.0,59.3 542.9,59.7 541.0,58.5 C539.1,57.3 538.6,54.0 538.8,52.5Z" fill="url(#tg)" stroke="#3c9e94" stroke-width="0.90"/>
<path d="M542.9,53.5 C543.1,52.4 543.9,51.5 545.2,51.2 C546.6,50.8 549.1,51.0 551.0,51.3 C552.9,51.6 555.1,52.4 556.8,53.1 C558.4,53.8 560.0,54.8 561.1,55.6 C562.2,56.5 563.0,57.3 563.2,58.2 C563.5,59.0 563.5,60.4 562.5,60.7 C561.6,61.0 559.4,60.3 557.5,60.0 C555.6,59.6 553.2,59.1 551.0,58.7 C548.8,58.4 545.9,58.7 544.5,57.8 C543.2,56.9 542.8,54.6 542.9,53.5Z" fill="none" stroke="#6fbdb3" stroke-width="0.45"/>
<path d="M547.4,54.5 C547.4,53.9 547.9,53.4 548.7,53.2 C549.5,53.0 551.0,53.1 552.1,53.3 C553.2,53.5 554.5,53.9 555.4,54.3 C556.4,54.7 557.3,55.3 558.0,55.8 C558.6,56.3 559.1,56.8 559.2,57.3 C559.4,57.8 559.4,58.6 558.8,58.7 C558.2,58.9 557.0,58.5 555.9,58.3 C554.7,58.1 553.3,57.8 552.1,57.6 C550.8,57.4 549.1,57.6 548.3,57.1 C547.5,56.5 547.3,55.2 547.4,54.5Z" fill="none" stroke="#9ed3cc" stroke-width="0.45"/>
<path d="M530.6,61.0 C530.4,59.9 532.3,58.5 534.0,58.0 C535.7,57.5 538.8,57.5 541.0,57.7 C543.2,57.9 545.8,58.3 547.0,59.0 C548.2,59.7 548.3,61.0 548.0,62.0 C547.7,63.0 547.2,64.2 545.0,64.7 C542.8,65.2 537.4,65.3 535.0,64.7 C532.6,64.1 530.8,62.1 530.6,61.0Z" fill="url(#tg)" stroke="#3c9e94" stroke-width="0.80"/>
<path d="M533.3,61.0 C533.1,60.2 534.5,59.2 535.7,58.8 C537.0,58.4 539.2,58.5 540.7,58.6 C542.3,58.7 544.2,59.0 545.1,59.6 C545.9,60.1 546.0,61.0 545.8,61.7 C545.5,62.4 545.2,63.3 543.6,63.7 C542.1,64.0 538.2,64.1 536.4,63.7 C534.7,63.2 533.4,61.8 533.3,61.0Z" fill="none" stroke="#6fbdb3" stroke-width="0.45"/>
<path d="M536.1,61.0 C536.0,60.5 536.8,60.0 537.5,59.7 C538.3,59.5 539.6,59.6 540.5,59.6 C541.4,59.7 542.5,59.9 543.0,60.2 C543.5,60.5 543.5,61.0 543.4,61.4 C543.3,61.8 543.1,62.4 542.1,62.6 C541.2,62.8 539.0,62.8 537.9,62.6 C536.9,62.3 536.2,61.5 536.1,61.0Z" fill="none" stroke="#9ed3cc" stroke-width="0.45"/>
<path d="M532.0,70.5 C532.3,69.2 534.8,67.9 537.0,67.5 C539.2,67.1 543.0,67.2 545.0,68.0 C547.0,68.8 548.4,70.3 549.0,72.0 C549.6,73.7 549.2,76.2 548.5,78.0 C547.8,79.8 546.8,81.7 545.0,82.5 C543.2,83.3 539.8,83.6 538.0,83.0 C536.2,82.4 534.5,80.3 534.0,79.0 C533.5,77.7 535.3,76.4 535.0,75.0 C534.7,73.6 531.7,71.8 532.0,70.5Z" fill="url(#tg)" stroke="#3c9e94" stroke-width="0.80"/>
<path d="M534.3,71.8 C534.6,70.9 536.4,69.9 537.9,69.6 C539.5,69.3 542.3,69.4 543.7,70.0 C545.1,70.5 546.2,71.7 546.6,72.9 C547.0,74.1 546.7,75.9 546.2,77.2 C545.7,78.4 545.0,79.8 543.7,80.4 C542.4,81.0 540.0,81.2 538.7,80.8 C537.3,80.4 536.1,78.9 535.8,77.9 C535.4,76.9 536.7,76.0 536.5,75.0 C536.3,74.0 534.1,72.7 534.3,71.8Z" fill="none" stroke="#6fbdb3" stroke-width="0.45"/>
<path d="M536.9,73.1 C537.0,72.6 538.1,72.1 539.0,71.9 C539.9,71.7 541.5,71.8 542.3,72.1 C543.2,72.4 543.8,73.1 544.0,73.8 C544.3,74.5 544.1,75.6 543.8,76.3 C543.5,77.0 543.1,77.8 542.3,78.2 C541.6,78.5 540.2,78.6 539.4,78.4 C538.6,78.1 537.9,77.3 537.7,76.7 C537.5,76.2 538.3,75.6 538.1,75.0 C538.0,74.4 536.7,73.7 536.9,73.1Z" fill="none" stroke="#9ed3cc" stroke-width="0.45"/>
<path d="M524.0,67.5 C524.3,67.1 526.6,66.2 527.5,66.3 C528.4,66.4 531.0,68.0 532.0,68.5 C533.0,69.0 535.5,70.4 536.5,70.8 C537.5,71.2 540.4,72.0 540.3,72.3 C540.2,72.6 537.0,73.3 536.0,73.8 C535.0,74.3 533.0,75.8 532.0,76.5 C531.0,77.2 528.4,79.5 527.5,79.8 C526.6,80.1 524.4,79.7 524.2,79.2 C524.0,78.7 525.0,76.3 525.5,75.5 C526.0,74.7 528.6,73.1 528.5,72.5 C528.4,71.9 525.5,70.6 525.0,70.0 C524.5,69.4 523.7,67.9 524.0,67.5Z" fill="#dcdcf8" stroke="#4a4ae0" stroke-width="1.0"/>
<path d="M527.0,69.0 C527.2,68.7 530.0,69.7 531.0,70.0 C532.0,70.3 535.4,71.6 535.5,72.0 C535.6,72.4 532.4,73.3 531.5,73.8 C530.6,74.3 528.3,76.6 528.0,76.5 C527.7,76.4 529.1,73.9 529.0,73.0 C528.9,72.1 526.8,69.3 527.0,69.0Z" fill="none" stroke="#6a6ae6" stroke-width="0.7"/>
<ellipse cx="527.5" cy="66.0" rx="0.8" ry="0.8" transform="rotate(0.0 527.5 66.0)" fill="none" stroke="#7cc4bc" stroke-width="0.50"/>
<path d="M555.0,68.5 C555.7,67.3 557.8,67.0 560.0,67.0 C562.2,67.0 565.9,67.7 568.0,68.5 C570.1,69.3 572.2,70.8 572.5,72.0 C572.8,73.2 571.8,75.2 570.0,76.0 C568.2,76.8 564.3,76.8 562.0,76.5 C559.7,76.2 557.2,75.3 556.0,74.0 C554.8,72.7 554.3,69.7 555.0,68.5Z" fill="url(#tg)" stroke="#3c9e94" stroke-width="0.80"/>
<path d="M557.3,69.4 C557.8,68.6 559.4,68.3 560.9,68.3 C562.5,68.3 565.2,68.8 566.7,69.4 C568.2,70.0 569.7,71.0 569.9,71.9 C570.2,72.8 569.4,74.3 568.1,74.8 C566.9,75.4 564.1,75.4 562.4,75.2 C560.7,74.9 558.9,74.3 558.1,73.4 C557.2,72.4 556.9,70.3 557.3,69.4Z" fill="none" stroke="#6fbdb3" stroke-width="0.45"/>
<path d="M559.8,70.4 C560.1,69.9 561.0,69.8 561.9,69.8 C562.9,69.8 564.4,70.1 565.3,70.4 C566.2,70.8 567.1,71.4 567.2,71.9 C567.3,72.4 566.9,73.2 566.1,73.6 C565.4,73.9 563.8,73.9 562.8,73.8 C561.8,73.6 560.8,73.3 560.3,72.7 C559.8,72.2 559.6,70.9 559.8,70.4Z" fill="none" stroke="#9ed3cc" stroke-width="0.45"/>
<path d="M529.0,86.0 C530.0,85.2 532.7,84.7 535.0,84.5 C537.3,84.3 540.7,84.7 543.0,85.0 C545.3,85.3 548.2,85.7 549.0,86.5 C549.8,87.3 549.3,89.1 548.0,90.0 C546.7,90.9 543.5,91.8 541.0,92.0 C538.5,92.2 535.0,91.5 533.0,91.0 C531.0,90.5 529.7,89.8 529.0,89.0 C528.3,88.2 528.0,86.8 529.0,86.0Z" fill="none" stroke="#9ad3cc" stroke-width="0.55"/>
<path d="M531.0,93.5 C531.7,92.8 534.7,92.2 536.0,92.5 C537.3,92.8 539.0,94.2 539.0,95.0 C539.0,95.8 537.2,97.2 536.0,97.5 C534.8,97.8 532.8,97.7 532.0,97.0 C531.2,96.3 530.3,94.2 531.0,93.5Z" fill="none" stroke="#a6d8d2" stroke-width="0.5"/>
<path d="M556.2,89.9 C556.2,89.2 557.0,88.4 558.5,87.8 C560.0,87.2 563.2,86.9 565.5,86.3 C567.8,85.7 569.6,84.5 572.0,84.0 C574.4,83.5 577.0,83.1 580.0,83.0 C583.0,82.9 587.3,83.1 590.0,83.5 C592.7,83.9 595.3,84.6 596.0,85.5 C596.7,86.4 595.2,87.8 594.0,89.0 C592.8,90.2 590.7,91.6 589.0,92.5 C587.3,93.4 586.0,94.0 584.0,94.2 C582.0,94.4 580.3,93.6 577.2,93.4 C574.1,93.2 568.6,93.0 565.5,92.8 C562.4,92.6 560.0,92.5 558.5,92.0 C557.0,91.5 556.2,90.6 556.2,89.9Z" fill="url(#bg)" stroke="#4646dc" stroke-width="0.90"/>
<path d="M561.7,89.6 C561.7,89.1 562.2,88.5 563.4,88.1 C564.5,87.6 566.8,87.4 568.4,87.0 C570.0,86.5 571.3,85.7 573.1,85.3 C574.8,84.9 576.7,84.7 578.8,84.6 C581.0,84.6 584.1,84.7 586.0,85.0 C588.0,85.3 589.9,85.8 590.4,86.4 C590.8,87.1 589.8,88.1 588.9,88.9 C588.1,89.8 586.5,90.8 585.3,91.5 C584.1,92.1 583.1,92.6 581.7,92.7 C580.3,92.8 579.0,92.3 576.8,92.1 C574.6,91.9 570.6,91.8 568.4,91.7 C566.2,91.5 564.5,91.4 563.4,91.1 C562.2,90.7 561.7,90.1 561.7,89.6Z" fill="none" stroke="#8c8cec" stroke-width="0.45"/>
<path d="M567.6,89.2 C567.6,88.9 567.9,88.6 568.6,88.4 C569.2,88.1 570.6,88.0 571.5,87.7 C572.5,87.5 573.2,87.0 574.2,86.8 C575.3,86.5 576.3,86.4 577.6,86.3 C578.9,86.3 580.7,86.4 581.8,86.6 C582.9,86.7 584.0,87.0 584.3,87.4 C584.6,87.8 584.0,88.4 583.5,88.9 C583.0,89.4 582.1,90.0 581.4,90.3 C580.7,90.7 580.1,91.0 579.3,91.0 C578.5,91.1 577.7,90.8 576.4,90.7 C575.1,90.6 572.8,90.6 571.5,90.5 C570.2,90.4 569.2,90.3 568.6,90.1 C567.9,89.9 567.6,89.5 567.6,89.2Z" fill="none" stroke="#b4b4f4" stroke-width="0.45"/>
<path d="M571.4,78.8 C571.9,77.5 574.1,77.0 576.0,75.9 C577.9,74.8 581.2,73.2 583.0,72.4 C584.8,71.6 584.5,71.5 586.5,71.3 C588.5,71.1 592.2,71.2 594.7,71.3 C597.2,71.4 599.8,71.3 601.7,71.8 C603.7,72.3 605.2,73.4 606.4,74.2 C607.6,75.0 607.5,75.6 608.7,76.5 C609.9,77.4 611.6,78.7 613.4,79.4 C615.1,80.1 617.7,80.1 619.2,80.6 C620.7,81.1 621.7,81.7 622.2,82.4 C622.7,83.1 622.7,84.0 622.2,84.7 C621.7,85.4 620.9,86.0 619.2,86.4 C617.5,86.8 614.3,87.1 612.2,87.0 C610.1,86.9 608.5,86.3 606.4,85.9 C604.3,85.5 600.9,84.4 599.4,84.7 C597.9,85.0 598.5,87.3 597.5,87.5 C596.5,87.7 595.4,86.4 593.5,86.0 C591.6,85.6 588.6,85.1 586.0,85.0 C583.4,84.9 580.2,85.8 578.0,85.5 C575.8,85.2 574.1,84.6 573.0,83.5 C571.9,82.4 570.9,80.1 571.4,78.8Z" fill="url(#bg)" stroke="#4646dc" stroke-width="0.90"/>
<path d="M579.0,79.3 C579.4,78.4 580.9,78.0 582.3,77.2 C583.7,76.4 586.1,75.2 587.4,74.7 C588.6,74.1 588.5,74.0 589.9,73.9 C591.3,73.7 594.0,73.8 595.8,73.9 C597.6,73.9 599.4,73.9 600.8,74.2 C602.2,74.6 603.4,75.4 604.2,76.0 C605.1,76.5 605.0,77.0 605.9,77.6 C606.7,78.2 608.0,79.2 609.3,79.7 C610.5,80.2 612.4,80.2 613.4,80.6 C614.5,80.9 615.2,81.4 615.6,81.9 C616.0,82.4 616.0,83.0 615.6,83.5 C615.2,84.0 614.6,84.5 613.4,84.8 C612.2,85.0 609.9,85.2 608.4,85.2 C606.9,85.1 605.8,84.7 604.2,84.4 C602.7,84.1 600.2,83.3 599.2,83.5 C598.1,83.7 598.5,85.4 597.8,85.5 C597.1,85.7 596.3,84.8 594.9,84.5 C593.5,84.2 591.4,83.8 589.5,83.7 C587.7,83.7 585.3,84.3 583.8,84.1 C582.2,83.9 581.0,83.5 580.2,82.7 C579.4,81.9 578.7,80.2 579.0,79.3Z" fill="none" stroke="#8c8cec" stroke-width="0.45"/>
<path d="M587.2,79.8 C587.4,79.3 588.3,79.0 589.1,78.6 C589.9,78.1 591.3,77.4 592.0,77.1 C592.8,76.8 592.7,76.7 593.5,76.6 C594.3,76.6 595.9,76.6 597.0,76.6 C598.0,76.7 599.1,76.7 599.9,76.9 C600.7,77.1 601.4,77.5 601.9,77.9 C602.4,78.2 602.4,78.5 602.8,78.8 C603.3,79.2 604.1,79.8 604.8,80.0 C605.6,80.3 606.6,80.3 607.3,80.6 C607.9,80.8 608.3,81.0 608.5,81.3 C608.7,81.6 608.7,82.0 608.5,82.3 C608.3,82.6 608.0,82.8 607.3,83.0 C606.6,83.1 605.2,83.3 604.3,83.2 C603.4,83.2 602.8,82.9 601.9,82.8 C601.0,82.6 599.6,82.2 598.9,82.3 C598.3,82.4 598.6,83.4 598.1,83.4 C597.7,83.5 597.3,83.0 596.5,82.8 C595.7,82.6 594.4,82.4 593.3,82.4 C592.2,82.4 590.9,82.7 589.9,82.6 C589.0,82.5 588.3,82.2 587.8,81.8 C587.4,81.3 587.0,80.3 587.2,79.8Z" fill="none" stroke="#b4b4f4" stroke-width="0.45"/>
<ellipse cx="586.5" cy="68.9" rx="2.8" ry="1.6" transform="rotate(0.0 586.5 68.9)" fill="url(#bgl)" stroke="#8f8fe8" stroke-width="0.60"/>
<ellipse cx="592.4" cy="68.3" rx="2.8" ry="1.6" transform="rotate(0.0 592.4 68.3)" fill="url(#bgl)" stroke="#8f8fe8" stroke-width="0.60"/>
<ellipse cx="588.4" cy="65.9" rx="1.8" ry="1.2" transform="rotate(0.0 588.4 65.9)" fill="url(#tg)" stroke="#3c9e94" stroke-width="0.50"/>
<ellipse cx="595.6" cy="65.9" rx="1.8" ry="1.2" transform="rotate(0.0 595.6 65.9)" fill="url(#tg)" stroke="#3c9e94" stroke-width="0.50"/>
<ellipse cx="603.5" cy="66.6" rx="2.4" ry="1.5" transform="rotate(0.0 603.5 66.6)" fill="url(#tg)" stroke="#3c9e94" stroke-width="0.50"/>
<path d="M604.7,35.5 C604.7,34.1 605.3,32.4 607.0,31.5 C608.7,30.6 612.3,30.4 615.0,30.3 C617.7,30.2 621.1,30.4 623.0,31.0 C624.9,31.6 626.3,32.8 626.5,34.0 C626.7,35.2 625.9,37.5 624.0,38.5 C622.1,39.5 617.8,40.0 615.0,40.2 C612.2,40.4 608.7,40.4 607.0,39.6 C605.3,38.8 604.7,36.9 604.7,35.5Z" fill="url(#bgd)" stroke="#3434d0" stroke-width="0.9"/>
<path d="M578.0,41.0 C578.7,39.8 580.0,38.3 582.0,37.0 C584.0,35.7 587.5,34.2 590.0,33.0 C592.5,31.8 594.7,30.2 597.0,29.5 C599.3,28.8 602.3,28.6 604.0,29.0 C605.7,29.4 606.7,30.7 607.0,32.0 C607.3,33.3 607.2,35.8 606.0,37.0 C604.8,38.2 602.3,38.2 600.0,39.0 C597.7,39.8 594.7,40.9 592.0,42.0 C589.3,43.1 586.3,45.1 584.0,45.5 C581.7,45.9 579.0,45.2 578.0,44.5 C577.0,43.8 577.3,42.2 578.0,41.0Z" fill="#e4e4fa" stroke="#9c9cea" stroke-width="0.6"/>
<path d="M582.0,41.0 C582.7,40.0 587.0,37.8 590.0,36.5 C593.0,35.2 597.8,33.4 600.0,33.0 C602.2,32.6 603.7,33.1 603.0,34.0 C602.3,34.9 598.8,37.1 596.0,38.5 C593.2,39.9 588.3,42.1 586.0,42.5 C583.7,42.9 581.3,42.0 582.0,41.0Z" fill="none" stroke="#b4b4f0" stroke-width="0.5"/>
<path d="M579.3,59.0 C579.0,57.6 580.9,56.0 583.0,55.3 C585.1,54.6 589.3,54.7 592.0,54.8 C594.7,54.9 597.6,55.1 599.0,56.0 C600.4,56.9 600.8,58.7 600.3,60.0 C599.8,61.3 598.5,63.0 596.0,63.6 C593.5,64.2 587.8,64.6 585.0,63.8 C582.2,63.0 579.6,60.4 579.3,59.0Z" fill="url(#bgd)" stroke="#3434d0" stroke-width="0.9"/>
<path d="M572.0,50.0 C572.7,49.2 575.3,47.8 577.0,48.0 C578.7,48.2 581.8,50.0 582.0,51.0 C582.2,52.0 579.5,53.7 578.0,54.0 C576.5,54.3 574.0,53.7 573.0,53.0 C572.0,52.3 571.3,50.8 572.0,50.0Z" fill="url(#bgl)" stroke="#8f8fe8" stroke-width="0.50"/>
<path d="M609.5,51.5 C610.2,51.5 611.0,53.8 611.5,55.0 C612.0,56.2 612.8,57.5 612.5,58.5 C612.2,59.5 610.5,61.2 609.5,61.2 C608.5,61.2 606.7,59.5 606.4,58.5 C606.1,57.5 607.0,56.2 607.5,55.0 C608.0,53.8 608.8,51.5 609.5,51.5Z" fill="url(#bgl)" stroke="#8f8fe8" stroke-width="0.70"/>
<ellipse cx="609.5" cy="48.0" rx="1.2" ry="1.2" transform="rotate(0.0 609.5 48.0)" fill="none" stroke="#8f8fe8" stroke-width="0.50"/>
<ellipse cx="659.8" cy="37.0" rx="2.8" ry="2.6" transform="rotate(0.0 659.8 37.0)" fill="none" stroke="#8f8fe8" stroke-width="0.80"/>
<ellipse cx="659.8" cy="37.0" rx="1.2" ry="1.1" transform="rotate(0.0 659.8 37.0)" fill="none" stroke="#8f8fe8" stroke-width="0.60"/>
<ellipse cx="652.8" cy="41.9" rx="1.6" ry="1.6" transform="rotate(0.0 652.8 41.9)" fill="none" stroke="#8f8fe8" stroke-width="0.60"/>
<ellipse cx="651.4" cy="56.3" rx="1.7" ry="1.6" transform="rotate(0.0 651.4 56.3)" fill="none" stroke="#7cc4bc" stroke-width="0.70"/>
<ellipse cx="569.0" cy="59.0" rx="1.5" ry="1.5" transform="rotate(0.0 569.0 59.0)" fill="none" stroke="#7cc4bc" stroke-width="0.50"/>
<ellipse cx="573.0" cy="60.5" rx="2.5" ry="1.3" transform="rotate(0.0 573.0 60.5)" fill="url(#tgl)" stroke="#7cc4bc" stroke-width="0.50"/>
<ellipse cx="580.0" cy="63.5" rx="2.2" ry="1.3" transform="rotate(0.0 580.0 63.5)" fill="url(#tgl)" stroke="#7cc4bc" stroke-width="0.50"/>
<path d="M548.0,95.5 C548.5,94.8 550.0,94.2 552.0,94.0 C554.0,93.8 557.3,94.0 560.0,94.2 C562.7,94.5 566.4,94.9 568.0,95.5 C569.6,96.1 570.0,97.2 569.5,98.0 C569.0,98.8 567.4,99.6 565.0,100.0 C562.6,100.4 557.7,100.5 555.0,100.2 C552.3,100.0 550.2,99.3 549.0,98.5 C547.8,97.7 547.5,96.2 548.0,95.5Z" fill="url(#tg)" stroke="#3c9e94" stroke-width="0.80"/>
<path d="M550.9,95.9 C551.2,95.4 552.3,95.0 553.8,94.8 C555.2,94.7 557.6,94.8 559.5,95.0 C561.4,95.2 564.1,95.5 565.3,95.9 C566.4,96.4 566.7,97.2 566.4,97.7 C566.0,98.3 564.9,98.9 563.1,99.2 C561.4,99.4 557.8,99.5 555.9,99.3 C554.0,99.1 552.4,98.6 551.6,98.1 C550.8,97.5 550.5,96.5 550.9,95.9Z" fill="none" stroke="#6fbdb3" stroke-width="0.45"/>
<path d="M554.0,96.4 C554.2,96.0 554.8,95.8 555.7,95.7 C556.5,95.6 557.9,95.7 559.0,95.8 C560.1,95.9 561.7,96.1 562.4,96.4 C563.0,96.6 563.2,97.1 563.0,97.4 C562.8,97.7 562.1,98.1 561.1,98.3 C560.1,98.4 558.0,98.4 556.9,98.3 C555.8,98.2 554.9,98.0 554.4,97.6 C553.9,97.3 553.8,96.7 554.0,96.4Z" fill="none" stroke="#9ed3cc" stroke-width="0.45"/>
<ellipse cx="546.6" cy="106.9" rx="3.0" ry="3.0" transform="rotate(0.0 546.6 106.9)" fill="url(#tg)" stroke="#3c9e94" stroke-width="0.70"/>
<ellipse cx="546.6" cy="106.9" rx="2.1" ry="2.1" transform="rotate(0.0 546.6 106.9)" fill="none" stroke="#6fbdb3" stroke-width="0.45"/>
<ellipse cx="545.9" cy="120.0" rx="3.6" ry="3.4" transform="rotate(0.0 545.9 120.0)" fill="url(#tg)" stroke="#3c9e94" stroke-width="0.70"/>
<ellipse cx="545.9" cy="120.0" rx="2.5" ry="2.4" transform="rotate(0.0 545.9 120.0)" fill="none" stroke="#6fbdb3" stroke-width="0.45"/>
<ellipse cx="505.8" cy="121.5" rx="3.6" ry="4.6" transform="rotate(15.0 505.8 121.5)" fill="url(#tg)" stroke="#3c9e94" stroke-width="0.80"/>
<ellipse cx="505.8" cy="121.5" rx="2.5" ry="3.2" transform="rotate(15.0 505.8 121.5)" fill="none" stroke="#6fbdb3" stroke-width="0.45"/>
<ellipse cx="499.5" cy="112.5" rx="2.2" ry="2.6" transform="rotate(0.0 499.5 112.5)" fill="none" stroke="#7cc4bc" stroke-width="0.60"/>
<ellipse cx="507.2" cy="112.0" rx="1.5" ry="1.8" transform="rotate(0.0 507.2 112.0)" fill="none" stroke="#7cc4bc" stroke-width="0.60"/>
<ellipse cx="485.5" cy="109.0" rx="1.0" ry="1.0" transform="rotate(0.0 485.5 109.0)" fill="none" stroke="#7cc4bc" stroke-width="0.50"/>
<ellipse cx="512.3" cy="120.0" rx="1.4" ry="1.8" transform="rotate(0.0 512.3 120.0)" fill="none" stroke="#8f8fe8" stroke-width="0.70"/>
<path d="M487.0,126.0 C487.3,125.2 490.0,124.8 492.0,124.5 C494.0,124.2 497.7,123.8 499.0,124.2 C500.3,124.6 500.5,126.1 500.0,127.0 C499.5,127.9 497.7,129.1 496.0,129.5 C494.3,129.9 491.5,130.1 490.0,129.5 C488.5,128.9 486.7,126.8 487.0,126.0Z" fill="url(#tgl)" stroke="#7cc4bc" stroke-width="0.60"/>
<path d="M525.5,108.0 C525.9,106.8 527.7,105.2 529.0,104.5 C530.3,103.8 532.6,103.2 533.5,103.5 C534.4,103.8 534.8,105.4 534.5,106.5 C534.2,107.6 532.2,108.7 532.0,110.0 C531.8,111.3 533.4,112.9 533.5,114.5 C533.6,116.1 533.4,118.4 532.5,119.5 C531.6,120.6 529.2,121.4 528.0,121.0 C526.8,120.6 525.8,118.5 525.5,117.0 C525.2,115.5 526.5,113.5 526.5,112.0 C526.5,110.5 525.1,109.2 525.5,108.0Z" fill="#f6f6fe" stroke="#9a9aea" stroke-width="0.6"/>
<path d="M527.5,113.0 C527.9,112.1 529.3,111.2 530.0,111.5 C530.7,111.8 531.6,113.8 531.5,115.0 C531.4,116.2 530.2,118.2 529.5,118.5 C528.8,118.8 527.8,117.9 527.5,117.0 C527.2,116.1 527.1,113.9 527.5,113.0Z" fill="none" stroke="#a8a8ee" stroke-width="0.5"/>
<ellipse cx="533.5" cy="109.6" rx="1.2" ry="1.2" transform="rotate(0.0 533.5 109.6)" fill="url(#tgl)" stroke="#7cc4bc" stroke-width="0.50"/>
<ellipse cx="491.0" cy="127.0" rx="0.0" ry="0.0" transform="rotate(0.0 491.0 127.0)" fill="none" stroke="#7cc4bc" stroke-width="0.00"/>
<path d="M586.0,104.0 C586.7,102.5 588.2,101.4 590.0,101.0 C591.8,100.6 594.7,101.0 597.0,101.5 C599.3,102.0 601.8,103.2 604.0,104.0 C606.2,104.8 607.8,106.2 610.0,106.5 C612.2,106.8 614.8,106.3 617.0,106.0 C619.2,105.7 621.3,105.2 623.0,104.5 C624.7,103.8 625.5,102.2 627.0,101.5 C628.5,100.8 630.4,100.4 632.0,100.3 C633.6,100.2 635.4,100.3 636.5,101.0 C637.6,101.7 638.4,103.2 638.5,104.5 C638.6,105.8 638.1,107.8 637.0,109.0 C635.9,110.2 634.0,111.2 632.0,112.0 C630.0,112.8 627.2,113.1 625.0,114.0 C622.8,114.9 621.2,116.8 619.0,117.5 C616.8,118.2 614.5,118.5 612.0,118.5 C609.5,118.5 606.8,117.8 604.0,117.5 C601.2,117.2 597.5,117.0 595.0,116.5 C592.5,116.0 590.5,115.6 589.0,114.5 C587.5,113.4 586.5,111.8 586.0,110.0 C585.5,108.2 585.3,105.5 586.0,104.0Z" fill="url(#tg)" stroke="#3c9e94" stroke-width="1.00"/>
<path d="M593.6,105.2 C594.0,104.1 595.1,103.3 596.4,103.0 C597.8,102.7 599.8,103.0 601.5,103.4 C603.2,103.7 605.0,104.6 606.5,105.2 C608.1,105.8 609.3,106.7 610.8,107.0 C612.4,107.2 614.3,106.9 615.9,106.6 C617.4,106.4 619.0,106.1 620.2,105.5 C621.4,105.0 622.0,103.9 623.1,103.4 C624.2,102.9 625.5,102.6 626.7,102.5 C627.8,102.5 629.1,102.5 629.9,103.0 C630.7,103.5 631.3,104.6 631.4,105.5 C631.4,106.5 631.1,107.9 630.3,108.8 C629.5,109.7 628.1,110.3 626.7,110.9 C625.2,111.5 623.2,111.7 621.6,112.4 C620.1,113.0 618.9,114.4 617.3,114.9 C615.8,115.4 614.1,115.6 612.3,115.6 C610.5,115.6 608.6,115.1 606.5,114.9 C604.5,114.7 601.8,114.5 600.0,114.2 C598.2,113.8 596.8,113.5 595.7,112.7 C594.6,112.0 593.9,110.8 593.6,109.5 C593.2,108.2 593.1,106.3 593.6,105.2Z" fill="none" stroke="#6fbdb3" stroke-width="0.45"/>
<path d="M601.7,106.4 C601.9,105.8 602.6,105.4 603.3,105.2 C604.1,105.0 605.3,105.2 606.3,105.4 C607.3,105.6 608.3,106.1 609.2,106.4 C610.1,106.8 610.8,107.4 611.7,107.5 C612.6,107.6 613.8,107.4 614.7,107.3 C615.6,107.1 616.5,107.0 617.2,106.7 C617.9,106.3 618.2,105.7 618.9,105.4 C619.5,105.1 620.3,104.9 621.0,104.9 C621.6,104.9 622.4,104.9 622.9,105.2 C623.3,105.5 623.7,106.1 623.7,106.7 C623.7,107.2 623.5,108.0 623.1,108.5 C622.6,109.1 621.8,109.5 621.0,109.8 C620.1,110.2 618.9,110.3 618.0,110.6 C617.1,111.0 616.4,111.8 615.5,112.1 C614.6,112.4 613.6,112.5 612.6,112.5 C611.5,112.5 610.4,112.3 609.2,112.1 C608.0,112.0 606.5,111.9 605.4,111.7 C604.4,111.5 603.5,111.3 602.9,110.9 C602.3,110.4 601.9,109.7 601.7,109.0 C601.4,108.2 601.4,107.1 601.7,106.4Z" fill="none" stroke="#9ed3cc" stroke-width="0.45"/>
<path d="M576.0,102.0 C576.7,101.0 580.0,100.1 582.0,100.0 C584.0,99.9 586.7,100.5 588.0,101.5 C589.3,102.5 590.7,105.0 590.0,106.0 C589.3,107.0 586.0,107.5 584.0,107.5 C582.0,107.5 579.3,106.9 578.0,106.0 C576.7,105.1 575.3,103.0 576.0,102.0Z" fill="url(#tgl)" stroke="#7cc4bc" stroke-width="0.60"/>
<ellipse cx="581.0" cy="118.1" rx="6.1" ry="3.6" transform="rotate(0.0 581.0 118.1)" fill="url(#tg)" stroke="#3c9e94" stroke-width="0.90"/>
<ellipse cx="581.0" cy="118.1" rx="4.3" ry="2.5" transform="rotate(0.0 581.0 118.1)" fill="none" stroke="#6fbdb3" stroke-width="0.45"/>
<ellipse cx="627.6" cy="125.6" rx="7.3" ry="6.8" transform="rotate(0.0 627.6 125.6)" fill="url(#tg)" stroke="#3c9e94" stroke-width="0.90"/>
<ellipse cx="627.6" cy="125.6" rx="5.1" ry="4.8" transform="rotate(0.0 627.6 125.6)" fill="none" stroke="#6fbdb3" stroke-width="0.45"/>
<ellipse cx="610.3" cy="130.1" rx="7.0" ry="4.5" transform="rotate(0.0 610.3 130.1)" fill="url(#tg)" stroke="#3c9e94" stroke-width="0.90"/>
<ellipse cx="610.3" cy="130.1" rx="4.9" ry="3.1" transform="rotate(0.0 610.3 130.1)" fill="none" stroke="#6fbdb3" stroke-width="0.45"/>
<ellipse cx="648.4" cy="121.7" rx="4.4" ry="6.6" transform="rotate(0.0 648.4 121.7)" fill="url(#tg)" stroke="#3c9e94" stroke-width="0.90"/>
<ellipse cx="648.4" cy="121.7" rx="3.1" ry="4.6" transform="rotate(0.0 648.4 121.7)" fill="none" stroke="#6fbdb3" stroke-width="0.45"/>
<ellipse cx="572.3" cy="114.3" rx="2.0" ry="2.0" transform="rotate(0.0 572.3 114.3)" fill="url(#tgl)" stroke="#7cc4bc" stroke-width="0.60"/>
<ellipse cx="568.8" cy="122.1" rx="1.8" ry="2.0" transform="rotate(0.0 568.8 122.1)" fill="url(#tgl)" stroke="#7cc4bc" stroke-width="0.60"/>
<ellipse cx="607.0" cy="113.0" rx="2.0" ry="1.5" transform="rotate(0.0 607.0 113.0)" fill="url(#tgl)" stroke="#7cc4bc" stroke-width="0.50"/>
<ellipse cx="628.3" cy="136.2" rx="2.0" ry="1.7" transform="rotate(0.0 628.3 136.2)" fill="none" stroke="#8f8fe8" stroke-width="0.70"/>
<ellipse cx="589.0" cy="111.0" rx="1.2" ry="1.2" transform="rotate(0.0 589.0 111.0)" fill="none" stroke="#8f8fe8" stroke-width="0.50"/>
<ellipse cx="578.0" cy="111.0" rx="2.3" ry="2.0" transform="rotate(0.0 578.0 111.0)" fill="url(#tgl)" stroke="#7cc4bc" stroke-width="0.50"/>
<path d="M542.5,152.0 C542.8,151.0 544.2,150.0 546.0,149.5 C547.8,149.0 550.5,148.9 553.0,149.0 C555.5,149.1 558.2,149.5 561.0,150.0 C563.8,150.5 568.5,151.0 570.0,151.8 C571.5,152.6 571.5,154.2 570.3,155.0 C569.1,155.8 566.0,156.2 563.0,156.5 C560.0,156.8 555.2,156.7 552.0,156.5 C548.8,156.3 545.6,156.3 544.0,155.6 C542.4,154.8 542.2,153.0 542.5,152.0Z" fill="url(#tg)" stroke="#3c9e94" stroke-width="0.80"/>
<path d="M546.2,152.2 C546.5,151.5 547.5,150.8 548.7,150.4 C550.0,150.1 552.0,150.0 553.8,150.1 C555.6,150.1 557.5,150.5 559.5,150.8 C561.6,151.1 564.9,151.5 566.0,152.1 C567.1,152.7 567.1,153.8 566.2,154.4 C565.4,155.0 563.2,155.3 561.0,155.5 C558.8,155.7 555.3,155.6 553.1,155.5 C550.8,155.4 548.4,155.4 547.3,154.8 C546.2,154.3 546.0,153.0 546.2,152.2Z" fill="none" stroke="#6fbdb3" stroke-width="0.45"/>
<path d="M550.2,152.5 C550.3,152.1 550.9,151.7 551.7,151.5 C552.4,151.2 553.5,151.2 554.6,151.2 C555.6,151.3 556.8,151.5 558.0,151.7 C559.1,151.9 561.1,152.1 561.7,152.4 C562.4,152.8 562.4,153.4 561.9,153.8 C561.4,154.1 560.1,154.3 558.8,154.4 C557.5,154.5 555.5,154.5 554.2,154.4 C552.8,154.3 551.5,154.3 550.8,154.0 C550.2,153.7 550.0,152.9 550.2,152.5Z" fill="none" stroke="#9ed3cc" stroke-width="0.45"/>
<ellipse cx="531.0" cy="152.3" rx="2.5" ry="1.2" transform="rotate(0.0 531.0 152.3)" fill="none" stroke="#8f8fe8" stroke-width="0.50"/>
<ellipse cx="466.4" cy="177.4" rx="3.2" ry="5.2" transform="rotate(0.0 466.4 177.4)" fill="url(#tg)" stroke="#3c9e94" stroke-width="0.80"/>
<ellipse cx="466.4" cy="177.4" rx="2.2" ry="3.6" transform="rotate(0.0 466.4 177.4)" fill="none" stroke="#6fbdb3" stroke-width="0.45"/>
<path d="M445.0,201.0 C445.4,199.8 446.3,198.4 448.0,198.0 C449.7,197.6 452.7,198.0 455.0,198.4 C457.3,198.8 460.5,199.7 462.0,200.5 C463.5,201.3 464.5,202.7 464.0,203.5 C463.5,204.3 461.3,205.0 459.0,205.5 C456.7,206.0 452.2,206.6 450.0,206.5 C447.8,206.4 446.3,205.9 445.5,205.0 C444.7,204.1 444.6,202.2 445.0,201.0Z" fill="url(#tg)" stroke="#3c9e94" stroke-width="0.90"/>
<path d="M447.4,201.4 C447.7,200.5 448.4,199.5 449.6,199.2 C450.8,198.9 452.9,199.2 454.6,199.5 C456.3,199.8 458.6,200.4 459.6,201.0 C460.7,201.6 461.4,202.6 461.1,203.2 C460.7,203.8 459.2,204.2 457.5,204.6 C455.8,205.0 452.6,205.4 451.0,205.3 C449.4,205.3 448.4,204.9 447.8,204.2 C447.2,203.6 447.1,202.2 447.4,201.4Z" fill="none" stroke="#6fbdb3" stroke-width="0.45"/>
<path d="M450.0,201.8 C450.1,201.3 450.5,200.7 451.2,200.5 C451.9,200.3 453.2,200.5 454.2,200.7 C455.1,200.8 456.5,201.2 457.1,201.5 C457.7,201.9 458.2,202.5 457.9,202.8 C457.7,203.2 456.8,203.4 455.8,203.6 C454.9,203.9 453.0,204.1 452.1,204.1 C451.1,204.0 450.5,203.8 450.2,203.4 C449.8,203.0 449.8,202.2 450.0,201.8Z" fill="none" stroke="#9ed3cc" stroke-width="0.45"/>
<ellipse cx="449.8" cy="194.0" rx="1.6" ry="1.6" transform="rotate(0.0 449.8 194.0)" fill="url(#tgl)" stroke="#7cc4bc" stroke-width="0.50"/>
<ellipse cx="401.4" cy="161.5" rx="3.0" ry="2.8" transform="rotate(0.0 401.4 161.5)" fill="url(#tg)" stroke="#3c9e94" stroke-width="0.80"/>
<ellipse cx="401.4" cy="161.5" rx="2.1" ry="2.0" transform="rotate(0.0 401.4 161.5)" fill="none" stroke="#6fbdb3" stroke-width="0.45"/>
<ellipse cx="381.8" cy="161.5" rx="2.2" ry="2.6" transform="rotate(0.0 381.8 161.5)" fill="url(#tg)" stroke="#3c9e94" stroke-width="0.70"/>
<ellipse cx="395.3" cy="167.6" rx="3.0" ry="3.0" transform="rotate(0.0 395.3 167.6)" fill="url(#tg)" stroke="#3c9e94" stroke-width="0.80"/>
<ellipse cx="395.3" cy="167.6" rx="2.1" ry="2.1" transform="rotate(0.0 395.3 167.6)" fill="none" stroke="#6fbdb3" stroke-width="0.45"/>
<ellipse cx="382.4" cy="192.8" rx="2.6" ry="1.8" transform="rotate(0.0 382.4 192.8)" fill="url(#tgl)" stroke="#7cc4bc" stroke-width="0.70"/>
<ellipse cx="396.4" cy="212.4" rx="2.4" ry="2.2" transform="rotate(0.0 396.4 212.4)" fill="url(#tgl)" stroke="#7cc4bc" stroke-width="0.70"/>
<ellipse cx="534.3" cy="212.7" rx="1.4" ry="1.2" transform="rotate(0.0 534.3 212.7)" fill="url(#tgl)" stroke="#7cc4bc" stroke-width="0.60"/>
<ellipse cx="380.4" cy="153.3" rx="1.2" ry="0.9" transform="rotate(0.0 380.4 153.3)" fill="none" stroke="#7cc4bc" stroke-width="0.50"/>
<path d="M387.0,154.0 C387.5,153.2 389.5,151.8 391.0,151.0 C392.5,150.2 395.0,149.3 396.0,149.5 C397.0,149.7 397.5,151.1 397.0,152.0 C396.5,152.9 394.5,154.3 393.0,155.0 C391.5,155.7 389.0,156.2 388.0,156.0 C387.0,155.8 386.5,154.8 387.0,154.0Z" fill="url(#tgl)" stroke="#7cc4bc" stroke-width="0.50"/>
<path d="M489.0,126.5 C489.3,125.7 491.7,124.3 493.0,124.0 C494.3,123.7 496.5,124.1 497.0,124.8 C497.5,125.5 497.0,127.3 496.0,128.0 C495.0,128.7 492.2,129.2 491.0,129.0 C489.8,128.8 488.7,127.3 489.0,126.5Z" fill="url(#tgl)" stroke="#7cc4bc" stroke-width="0.50"/>
<path d="M501.0,123.0 C501.5,122.2 503.8,120.8 505.0,120.5 C506.2,120.2 507.8,120.2 508.0,121.0 C508.2,121.8 507.0,124.2 506.0,125.0 C505.0,125.8 502.8,125.8 502.0,125.5 C501.2,125.2 500.5,123.8 501.0,123.0Z" fill="url(#tgl)" stroke="#7cc4bc" stroke-width="0.50"/>
<text x="555.0" y="63.1" text-anchor="middle" dominant-baseline="central" font-family="Liberation Sans" font-weight="bold" fill="#111" stroke="#111" stroke-width="0.22" font-size="4.8">G2</text>
<text x="570.0" y="64.8" text-anchor="middle" dominant-baseline="central" font-family="Liberation Sans" font-weight="bold" fill="#111" stroke="#111" stroke-width="0.22" font-size="4.8">H2</text>
<text x="575.8" y="68.3" text-anchor="middle" dominant-baseline="central" font-family="Liberation Sans" font-weight="bold" fill="#111" stroke="#111" stroke-width="0.22" font-size="4.8">H6</text>
<text x="613.4" y="68.2" text-anchor="middle" dominant-baseline="central" font-family="Liberation Sans" font-weight="bold" fill="#111" stroke="#111" stroke-width="0.22" font-size="4.8">A6</text>
<text x="618.7" y="74.5" text-anchor="middle" dominant-baseline="central" font-family="Liberation Sans" font-weight="bold" fill="#111" stroke="#111" stroke-width="0.22" font-size="4.8">C6</text>
<text x="552.4" y="77.2" text-anchor="middle" dominant-baseline="central" font-family="Liberation Sans" font-weight="bold" fill="#111" stroke="#111" stroke-width="0.22" font-size="4.8">J6</text>
<text x="566.4" y="79.8" text-anchor="middle" dominant-baseline="central" font-family="Liberation Sans" font-weight="bold" fill="#111" stroke="#111" stroke-width="0.22" font-size="4.8">B6</text>
<text x="553.3" y="84.4" text-anchor="middle" dominant-baseline="central" font-family="Liberation Sans" font-weight="bold" fill="#111" stroke="#111" stroke-width="0.22" font-size="4.8">F6</text>
<text x="563.8" y="85.6" text-anchor="middle" dominant-baseline="central" font-family="Liberation Sans" font-weight="bold" fill="#111" stroke="#111" stroke-width="0.22" font-size="4.8">G6</text>
<text x="591.8" y="87.9" text-anchor="middle" dominant-baseline="central" font-family="Liberation Sans" font-weight="bold" fill="#111" stroke="#111" stroke-width="0.22" font-size="4.8">E6</text>
<text x="628.6" y="90.8" text-anchor="middle" dominant-baseline="central" font-family="Liberation Sans" font-weight="bold" fill="#111" stroke="#111" stroke-width="0.22" font-size="4.8">D6</text>
<text x="576.5" y="97.8" text-anchor="middle" dominant-baseline="central" font-family="Liberation Sans" font-weight="bold" fill="#111" stroke="#111" stroke-width="0.22" font-size="4.8">C3</text>
<text x="590.0" y="97.5" text-anchor="middle" dominant-baseline="central" font-family="Liberation Sans" font-weight="bold" fill="#111" stroke="#111" stroke-width="0.22" font-size="4.8">A3</text>
<text x="598.8" y="95.2" text-anchor="middle" dominant-baseline="central" font-family="Liberation Sans" font-weight="bold" fill="#111" stroke="#111" stroke-width="0.22" font-size="4.8">J2</text>
<text x="607.6" y="95.2" text-anchor="middle" dominant-baseline="central" font-family="Liberation Sans" font-weight="bold" fill="#111" stroke="#111" stroke-width="0.22" font-size="4.8">E/F4</text>
<text x="597.0" y="102.2" text-anchor="middle" dominant-baseline="central" font-family="Liberation Sans" font-weight="bold" fill="#111" stroke="#111" stroke-width="0.22" font-size="4.8">D3</text>
<text x="617.2" y="102.2" text-anchor="middle" dominant-baseline="central" font-family="Liberation Sans" font-weight="bold" fill="#111" stroke="#111" stroke-width="0.22" font-size="4.8">D2</text>
<text x="542.8" y="97.8" text-anchor="middle" dominant-baseline="central" font-family="Liberation Sans" font-weight="bold" fill="#111" stroke="#111" stroke-width="0.22" font-size="4.8">H5</text>
<text x="554.0" y="106.6" text-anchor="middle" dominant-baseline="central" font-family="Liberation Sans" font-weight="bold" fill="#111" stroke="#111" stroke-width="0.22" font-size="4.8">H3</text>
<text x="527.4" y="100.8" text-anchor="middle" dominant-baseline="central" font-family="Liberation Sans" font-weight="bold" fill="#111" stroke="#111" stroke-width="0.22" font-size="4.8">H4</text>
<text x="564.7" y="108.9" text-anchor="middle" dominant-baseline="central" font-family="Liberation Sans" font-weight="bold" fill="#111" stroke="#111" stroke-width="0.22" font-size="4.8">A/B4</text>
<text x="579.5" y="112.7" text-anchor="middle" dominant-baseline="central" font-family="Liberation Sans" font-weight="bold" fill="#111" stroke="#111" stroke-width="0.22" font-size="4.8">C4</text>
<text x="563.0" y="118.0" text-anchor="middle" dominant-baseline="central" font-family="Liberation Sans" font-weight="bold" fill="#111" stroke="#111" stroke-width="0.22" font-size="4.8">B3</text>
<text x="495.1" y="95.4" text-anchor="middle" dominant-baseline="central" font-family="Liberation Sans" font-weight="bold" fill="#111" stroke="#111" stroke-width="0.22" font-size="4.8">G4</text>
<text x="547.4" y="134.5" text-anchor="middle" dominant-baseline="central" font-family="Liberation Sans" font-weight="bold" fill="#111" stroke="#111" stroke-width="0.22" font-size="4.8">A2</text>
<text x="568.8" y="136.4" text-anchor="middle" dominant-baseline="central" font-family="Liberation Sans" font-weight="bold" fill="#111" stroke="#111" stroke-width="0.22" font-size="4.8">B2</text>
<text x="568.0" y="142.2" text-anchor="middle" dominant-baseline="central" font-family="Liberation Sans" font-weight="bold" fill="#111" stroke="#111" stroke-width="0.22" font-size="4.8">E/F5</text>
<text x="581.0" y="133.4" text-anchor="middle" dominant-baseline="central" font-family="Liberation Sans" font-weight="bold" fill="#111" stroke="#111" stroke-width="0.22" font-size="4.8">E/F/J3</text>
<text x="581.0" y="139.0" text-anchor="middle" dominant-baseline="central" font-family="Liberation Sans" font-weight="bold" fill="#111" stroke="#111" stroke-width="0.22" font-size="4.8">A/B5</text>
<text x="591.5" y="125.0" text-anchor="middle" dominant-baseline="central" font-family="Liberation Sans" font-weight="bold" fill="#111" stroke="#111" stroke-width="0.22" font-size="4.8">E2</text>
<text x="597.1" y="132.9" text-anchor="middle" dominant-baseline="central" font-family="Liberation Sans" font-weight="bold" fill="#111" stroke="#111" stroke-width="0.22" font-size="4.8">C5</text>
<text x="600.6" y="142.5" text-anchor="middle" dominant-baseline="central" font-family="Liberation Sans" font-weight="bold" fill="#111" stroke="#111" stroke-width="0.22" font-size="4.8">D5</text>
<text x="610.8" y="141.6" text-anchor="middle" dominant-baseline="central" font-family="Liberation Sans" font-weight="bold" fill="#111" stroke="#111" stroke-width="0.22" font-size="4.8">F2</text>
<text x="608.2" y="149.8" text-anchor="middle" dominant-baseline="central" font-family="Liberation Sans" font-weight="bold" fill="#111" stroke="#111" stroke-width="0.22" font-size="4.8">G5</text>
<text x="623.0" y="140.4" text-anchor="middle" dominant-baseline="central" font-family="Liberation Sans" font-weight="bold" fill="#111" stroke="#111" stroke-width="0.22" font-size="4.8">H4</text>
<text x="554.0" y="164.9" text-anchor="middle" dominant-baseline="central" font-family="Liberation Sans" font-weight="bold" fill="#111" stroke="#111" stroke-width="0.22" font-size="4.8">C2</text>
<text x="544.0" y="206.4" text-anchor="middle" dominant-baseline="central" font-family="Liberation Sans" font-weight="bold" fill="#111" stroke="#111" stroke-width="0.22" font-size="4.8">D1</text>
<text x="415.4" y="161.7" text-anchor="middle" dominant-baseline="central" font-family="Liberation Sans" font-weight="bold" fill="#111" stroke="#111" stroke-width="0.22" font-size="4.8">G3</text>
<text x="397.8" y="177.6" text-anchor="middle" dominant-baseline="central" font-family="Liberation Sans" font-weight="bold" fill="#111" stroke="#111" stroke-width="0.22" font-size="4.8">J1</text>
<text x="397.2" y="193.0" text-anchor="middle" dominant-baseline="central" font-family="Liberation Sans" font-weight="bold" fill="#111" stroke="#111" stroke-width="0.22" font-size="4.8">H1</text>
<text x="411.2" y="212.6" text-anchor="middle" dominant-baseline="central" font-family="Liberation Sans" font-weight="bold" fill="#111" stroke="#111" stroke-width="0.22" font-size="4.8">G1</text>
<text x="475.7" y="178.2" text-anchor="middle" dominant-baseline="central" font-family="Liberation Sans" font-weight="bold" fill="#111" stroke="#111" stroke-width="0.22" font-size="4.8">C1</text>
<text x="471.5" y="203.7" text-anchor="middle" dominant-baseline="central" font-family="Liberation Sans" font-weight="bold" fill="#111" stroke="#111" stroke-width="0.22" font-size="4.8">A1</text>
<text x="462.5" y="211.5" text-anchor="middle" dominant-baseline="central" font-family="Liberation Sans" font-weight="bold" fill="#111" stroke="#111" stroke-width="0.22" font-size="4.8">B1</text>
<text x="447.6" y="186.0" text-anchor="middle" dominant-baseline="central" font-family="Liberation Sans" font-weight="bold" fill="#111" stroke="#111" stroke-width="0.22" font-size="4.8">E1</text>
<text x="465.3" y="193.6" text-anchor="middle" dominant-baseline="central" font-family="Liberation Sans" font-weight="bold" fill="#111" stroke="#111" stroke-width="0.22" font-size="4.8">F1</text>
<line x1="404.5" y1="161.5" x2="411.0" y2="161.6" stroke="#333" stroke-width="0.5"/>
<line x1="395.3" y1="170.5" x2="397.0" y2="174.5" stroke="#333" stroke-width="0.5"/>
<line x1="385.0" y1="192.8" x2="393.0" y2="192.9" stroke="#333" stroke-width="0.5"/>
<line x1="398.8" y1="212.4" x2="407.0" y2="212.5" stroke="#333" stroke-width="0.5"/>
<line x1="469.6" y1="177.6" x2="472.0" y2="177.8" stroke="#333" stroke-width="0.5"/>
<line x1="458.0" y1="203.0" x2="467.5" y2="203.6" stroke="#333" stroke-width="0.5"/>
<line x1="455.0" y1="204.5" x2="459.5" y2="209.5" stroke="#333" stroke-width="0.5"/>
<line x1="448.5" y1="188.5" x2="452.0" y2="199.0" stroke="#333" stroke-width="0.5"/>
<line x1="451.5" y1="194.2" x2="461.5" y2="193.6" stroke="#333" stroke-width="0.5"/>
<line x1="537.0" y1="211.5" x2="541.5" y2="207.5" stroke="#333" stroke-width="0.5"/>
<line x1="554.0" y1="157.0" x2="554.0" y2="161.5" stroke="#333" stroke-width="0.5"/>
<line x1="495.5" y1="98.0" x2="501.0" y2="115.0" stroke="#333" stroke-width="0.5"/>
<line x1="547.4" y1="123.5" x2="547.4" y2="131.5" stroke="#333" stroke-width="0.5"/>
<line x1="568.8" y1="124.0" x2="568.6" y2="133.5" stroke="#333" stroke-width="0.5"/>
<line x1="581.0" y1="122.5" x2="581.0" y2="130.5" stroke="#333" stroke-width="0.5"/>
<line x1="574.5" y1="113.8" x2="566.5" y2="117.0" stroke="#333" stroke-width="0.5"/>
<line x1="548.0" y1="109.0" x2="551.5" y2="104.5" stroke="#333" stroke-width="0.5"/>
<line x1="545.0" y1="100.0" x2="546.0" y2="104.0" stroke="#333" stroke-width="0.5"/>
<line x1="529.0" y1="103.5" x2="530.5" y2="108.0" stroke="#333" stroke-width="0.5"/>
<line x1="569.0" y1="95.5" x2="573.0" y2="97.5" stroke="#333" stroke-width="0.5"/>
<line x1="559.0" y1="63.0" x2="563.5" y2="62.0" stroke="#333" stroke-width="0.5"/>
<line x1="566.0" y1="61.5" x2="568.5" y2="63.0" stroke="#333" stroke-width="0.5"/>
<line x1="578.0" y1="70.0" x2="581.0" y2="74.0" stroke="#333" stroke-width="0.5"/>
<line x1="579.0" y1="84.5" x2="610.0" y2="70.0" stroke="#333" stroke-width="0.5"/>
<line x1="582.0" y1="86.5" x2="614.0" y2="76.0" stroke="#333" stroke-width="0.5"/>
<line x1="556.0" y1="79.0" x2="563.0" y2="79.5" stroke="#333" stroke-width="0.5"/>
<line x1="570.0" y1="80.0" x2="577.0" y2="79.0" stroke="#333" stroke-width="0.5"/>
<line x1="556.5" y1="84.6" x2="560.0" y2="85.2" stroke="#333" stroke-width="0.5"/>
<line x1="567.5" y1="85.5" x2="587.0" y2="87.5" stroke="#333" stroke-width="0.5"/>
<line x1="596.0" y1="87.5" x2="624.0" y2="90.5" stroke="#333" stroke-width="0.5"/>
<line x1="587.0" y1="98.5" x2="580.0" y2="110.0" stroke="#333" stroke-width="0.5"/>
<line x1="592.0" y1="98.5" x2="582.0" y2="110.0" stroke="#333" stroke-width="0.5"/>
<line x1="597.0" y1="97.0" x2="590.0" y2="108.0" stroke="#333" stroke-width="0.5"/>
<line x1="603.0" y1="97.0" x2="594.0" y2="110.0" stroke="#333" stroke-width="0.5"/>
<line x1="609.0" y1="98.0" x2="604.0" y2="108.5" stroke="#333" stroke-width="0.5"/>
<line x1="617.0" y1="104.5" x2="612.0" y2="110.0" stroke="#333" stroke-width="0.5"/>
<line x1="595.0" y1="124.5" x2="600.0" y2="115.0" stroke="#333" stroke-width="0.5"/>
<line x1="598.0" y1="130.5" x2="603.0" y2="116.0" stroke="#333" stroke-width="0.5"/>
<line x1="600.5" y1="140.0" x2="605.0" y2="118.0" stroke="#333" stroke-width="0.5"/>
<line x1="610.5" y1="139.0" x2="609.0" y2="131.0" stroke="#333" stroke-width="0.5"/>
<line x1="608.0" y1="147.5" x2="606.0" y2="125.0" stroke="#333" stroke-width="0.5"/>
<line x1="620.5" y1="138.5" x2="608.0" y2="120.0" stroke="#333" stroke-width="0.5"/>
<line x1="565.5" y1="108.5" x2="570.5" y2="104.5" stroke="#333" stroke-width="0.5"/>
<rect x="135.5" y="246.5" width="428.5" height="177.7" fill="#fff" stroke="#9a9a9a" stroke-width="0.9"/>
<line x1="145.8" y1="287.2" x2="167.8" y2="308.6" stroke="#1e1e1e" stroke-width="1.05"/>
<line x1="167.8" y1="308.6" x2="145.8" y2="330.0" stroke="#1e1e1e" stroke-width="1.05"/>
<line x1="167.8" y1="308.6" x2="197.6" y2="308.8" stroke="#1e1e1e" stroke-width="1.05"/>
<line x1="197.6" y1="308.8" x2="220.3" y2="330.2" stroke="#1e1e1e" stroke-width="1.05"/>
<line x1="220.3" y1="330.2" x2="198.3" y2="351.9" stroke="#1e1e1e" stroke-width="1.05"/>
<line x1="220.3" y1="330.2" x2="249.9" y2="330.2" stroke="#1e1e1e" stroke-width="1.05"/>
<line x1="249.9" y1="330.2" x2="271.4" y2="308.5" stroke="#1e1e1e" stroke-width="1.05"/>
<line x1="271.4" y1="308.5" x2="249.9" y2="287.0" stroke="#1e1e1e" stroke-width="1.05"/>
<line x1="271.4" y1="308.5" x2="293.5" y2="330.2" stroke="#1e1e1e" stroke-width="1.05"/>
<line x1="293.5" y1="330.2" x2="324.0" y2="330.4" stroke="#1e1e1e" stroke-width="1.05"/>
<line x1="324.0" y1="330.4" x2="354.2" y2="330.5" stroke="#1e1e1e" stroke-width="1.05"/>
<line x1="354.2" y1="330.5" x2="390.9" y2="293.3" stroke="#1e1e1e" stroke-width="1.05"/>
<line x1="390.9" y1="293.3" x2="415.9" y2="318.4" stroke="#1e1e1e" stroke-width="1.05"/>
<line x1="415.9" y1="318.4" x2="390.9" y2="342.6" stroke="#1e1e1e" stroke-width="1.05"/>
<line x1="415.9" y1="318.4" x2="444.1" y2="289.9" stroke="#1e1e1e" stroke-width="1.05"/>
<line x1="444.1" y1="289.9" x2="415.9" y2="263.0" stroke="#1e1e1e" stroke-width="1.05"/>
<line x1="444.1" y1="289.9" x2="474.0" y2="289.9" stroke="#1e1e1e" stroke-width="1.05"/>
<line x1="474.0" y1="289.9" x2="526.2" y2="342.6" stroke="#1e1e1e" stroke-width="1.05"/>
<line x1="526.2" y1="342.6" x2="474.0" y2="394.8" stroke="#1e1e1e" stroke-width="1.05"/>
<line x1="474.0" y1="394.8" x2="452.2" y2="372.5" stroke="#1e1e1e" stroke-width="1.05"/>
<line x1="474.0" y1="394.8" x2="452.2" y2="416.2" stroke="#1e1e1e" stroke-width="1.05"/>
<line x1="293.5" y1="330.2" x2="271.4" y2="351.7" stroke="#1e1e1e" stroke-width="1.05"/>
<line x1="390.9" y1="293.3" x2="354.5" y2="256.3" stroke="#1e1e1e" stroke-width="1.05"/>
<line x1="326.8" y1="256.4" x2="354.5" y2="256.4" stroke="#1e1e1e" stroke-width="1.05"/>
<line x1="526.2" y1="342.6" x2="556.6" y2="342.6" stroke="#1e1e1e" stroke-width="1.05"/>
<circle cx="145.8" cy="287.2" r="6.35" fill="#0b6fba" stroke="#1a1a1a" stroke-width="0.8"/>
<circle cx="167.8" cy="308.6" r="6.35" fill="#0aa550" stroke="#1a1a1a" stroke-width="0.8"/>
<circle cx="145.8" cy="330.0" r="6.35" fill="#0aa550" stroke="#1a1a1a" stroke-width="0.8"/>
<circle cx="197.6" cy="308.8" r="6.35" fill="#0aa550" stroke="#1a1a1a" stroke-width="0.8"/>
<circle cx="220.3" cy="330.2" r="6.35" fill="#0aa550" stroke="#1a1a1a" stroke-width="0.8"/>
<circle cx="198.3" cy="351.9" r="6.35" fill="#0b6fba" stroke="#1a1a1a" stroke-width="0.8"/>
<circle cx="249.9" cy="330.2" r="6.35" fill="#0aa550" stroke="#1a1a1a" stroke-width="0.8"/>
<circle cx="271.4" cy="308.5" r="6.35" fill="#0aa550" stroke="#1a1a1a" stroke-width="0.8"/>
<circle cx="249.9" cy="287.0" r="6.35" fill="#0b6fba" stroke="#1a1a1a" stroke-width="0.8"/>
<circle cx="293.5" cy="330.2" r="6.35" fill="#0aa550" stroke="#1a1a1a" stroke-width="0.8"/>
<circle cx="324.0" cy="330.4" r="6.35" fill="#0aa550" stroke="#1a1a1a" stroke-width="0.8"/>
<circle cx="354.2" cy="330.5" r="6.35" fill="#0aa550" stroke="#1a1a1a" stroke-width="0.8"/>
<circle cx="390.9" cy="293.3" r="6.35" fill="#0aa550" stroke="#1a1a1a" stroke-width="0.8"/>
<circle cx="415.9" cy="318.4" r="6.35" fill="#0aa550" stroke="#1a1a1a" stroke-width="0.8"/>
<circle cx="390.9" cy="342.6" r="6.35" fill="#fdd20a" stroke="#1a1a1a" stroke-width="0.8"/>
<circle cx="444.1" cy="289.9" r="6.35" fill="#0aa550" stroke="#1a1a1a" stroke-width="0.8"/>
<circle cx="415.9" cy="263.0" r="6.35" fill="#0b6fba" stroke="#1a1a1a" stroke-width="0.8"/>
<circle cx="474.0" cy="289.9" r="6.35" fill="#0aa550" stroke="#1a1a1a" stroke-width="0.8"/>
<circle cx="526.2" cy="342.6" r="6.35" fill="#0aa550" stroke="#1a1a1a" stroke-width="0.8"/>
<circle cx="452.2" cy="372.5" r="6.35" fill="#0b6fba" stroke="#1a1a1a" stroke-width="0.8"/>
<circle cx="474.0" cy="394.8" r="6.35" fill="#0aa550" stroke="#1a1a1a" stroke-width="0.8"/>
<circle cx="452.2" cy="416.2" r="6.35" fill="#0aa550" stroke="#1a1a1a" stroke-width="0.8"/>
<rect x="265.3" y="345.6" width="12.2" height="12.2" fill="#fff" stroke="#1a1a1a" stroke-width="0.8"/>
<path d="M265.3,345.6 L277.5,345.6 L277.5,357.8 Z" fill="#fdd20a" stroke="#1a1a1a" stroke-width="0.8"/>
<rect x="348.4" y="250.2" width="12.2" height="12.2" fill="#fff" stroke="#1a1a1a" stroke-width="0.8"/>
<path d="M348.4,250.2 L360.6,250.2 L360.6,262.4 Z" fill="#0b6fba" stroke="#1a1a1a" stroke-width="0.8"/>
<text x="155.2" y="292.0" font-size="4.6" text-anchor="middle" dominant-baseline="central" font-family="Liberation Sans" fill="#333">α</text>
<text x="177.3" y="306.0" font-size="4.6" text-anchor="middle" dominant-baseline="central" font-family="Liberation Sans" fill="#333">α</text>
<text x="189.5" y="305.7" font-size="5.2" text-anchor="middle" dominant-baseline="central" font-family="Liberation Sans" fill="#333">3</text>
<text x="160.9" y="320.0" font-size="5.2" text-anchor="middle" dominant-baseline="central" font-family="Liberation Sans" fill="#333">2</text>
<text x="155.6" y="325.7" font-size="4.6" text-anchor="middle" dominant-baseline="central" font-family="Liberation Sans" fill="#333">α</text>
<text x="207.7" y="314.5" font-size="4.6" text-anchor="middle" dominant-baseline="central" font-family="Liberation Sans" fill="#333">α</text>
<text x="213.0" y="319.4" font-size="5.2" text-anchor="middle" dominant-baseline="central" font-family="Liberation Sans" fill="#333">2</text>
<text x="213.0" y="341.0" font-size="5.2" text-anchor="middle" dominant-baseline="central" font-family="Liberation Sans" fill="#333">3</text>
<text x="207.3" y="346.7" font-size="4.6" text-anchor="middle" dominant-baseline="central" font-family="Liberation Sans" fill="#333">α</text>
<text x="229.8" y="327.2" font-size="4.6" text-anchor="middle" dominant-baseline="central" font-family="Liberation Sans" fill="#333">α</text>
<text x="241.0" y="326.7" font-size="5.2" text-anchor="middle" dominant-baseline="central" font-family="Liberation Sans" fill="#333">3</text>
<text x="259.7" y="292.6" font-size="4.6" text-anchor="middle" dominant-baseline="central" font-family="Liberation Sans" fill="#333">α</text>
<text x="265.0" y="297.5" font-size="5.2" text-anchor="middle" dominant-baseline="central" font-family="Liberation Sans" fill="#333">3</text>
<text x="259.7" y="325.6" font-size="4.6" text-anchor="middle" dominant-baseline="central" font-family="Liberation Sans" fill="#333">α</text>
<text x="265.0" y="319.7" font-size="5.2" text-anchor="middle" dominant-baseline="central" font-family="Liberation Sans" fill="#333">2</text>
<text x="281.9" y="313.7" font-size="4.6" text-anchor="middle" dominant-baseline="central" font-family="Liberation Sans" fill="#333">α</text>
<text x="287.2" y="319.0" font-size="5.2" text-anchor="middle" dominant-baseline="central" font-family="Liberation Sans" fill="#333">3</text>
<text x="286.5" y="341.2" font-size="5.2" text-anchor="middle" dominant-baseline="central" font-family="Liberation Sans" fill="#333">4</text>
<text x="281.9" y="346.6" font-size="4.6" text-anchor="middle" dominant-baseline="central" font-family="Liberation Sans" fill="#333">α</text>
<text x="303.6" y="327.2" font-size="4.6" text-anchor="middle" dominant-baseline="central" font-family="Liberation Sans" fill="#333">α</text>
<text x="314.6" y="326.7" font-size="5.2" text-anchor="middle" dominant-baseline="central" font-family="Liberation Sans" fill="#333">3</text>
<text x="334.4" y="327.7" font-size="4.6" text-anchor="middle" dominant-baseline="central" font-family="Liberation Sans" fill="#333">α</text>
<text x="345.5" y="327.7" font-size="5.2" text-anchor="middle" dominant-baseline="central" font-family="Liberation Sans" fill="#333">2</text>
<text x="364.0" y="325.2" font-size="4.6" text-anchor="middle" dominant-baseline="central" font-family="Liberation Sans" fill="#333">α</text>
<text x="384.5" y="304.6" font-size="5.2" text-anchor="middle" dominant-baseline="central" font-family="Liberation Sans" fill="#333">3</text>
<text x="364.0" y="262.5" font-size="4.6" text-anchor="middle" dominant-baseline="central" font-family="Liberation Sans" fill="#333">β</text>
<text x="384.5" y="282.3" font-size="5.2" text-anchor="middle" dominant-baseline="central" font-family="Liberation Sans" fill="#333">2</text>
<text x="345.5" y="254.0" font-size="5.2" text-anchor="middle" dominant-baseline="central" font-family="Liberation Sans" fill="#333">4</text>
<text x="324.1" y="256.6" font-size="4.6" text-anchor="middle" dominant-baseline="central" font-family="Liberation Sans" fill="#333">β</text>
<text x="401.2" y="299.5" font-size="4.6" text-anchor="middle" dominant-baseline="central" font-family="Liberation Sans" fill="#333">α</text>
<text x="408.9" y="306.7" font-size="5.2" text-anchor="middle" dominant-baseline="central" font-family="Liberation Sans" fill="#333">3</text>
<text x="409.7" y="328.5" font-size="5.2" text-anchor="middle" dominant-baseline="central" font-family="Liberation Sans" fill="#333">4</text>
<text x="400.4" y="337.0" font-size="4.6" text-anchor="middle" dominant-baseline="central" font-family="Liberation Sans" fill="#333">β</text>
<text x="425.6" y="313.1" font-size="4.6" text-anchor="middle" dominant-baseline="central" font-family="Liberation Sans" fill="#333">α</text>
<text x="437.2" y="300.6" font-size="5.2" text-anchor="middle" dominant-baseline="central" font-family="Liberation Sans" fill="#333">2</text>
<text x="425.7" y="268.5" font-size="4.6" text-anchor="middle" dominant-baseline="central" font-family="Liberation Sans" fill="#333">α</text>
<text x="437.7" y="278.4" font-size="5.2" text-anchor="middle" dominant-baseline="central" font-family="Liberation Sans" fill="#333">3</text>
<text x="454.8" y="287.8" font-size="4.6" text-anchor="middle" dominant-baseline="central" font-family="Liberation Sans" fill="#333">α</text>
<text x="465.5" y="287.8" font-size="5.2" text-anchor="middle" dominant-baseline="central" font-family="Liberation Sans" fill="#333">3</text>
<text x="483.4" y="295.5" font-size="4.6" text-anchor="middle" dominant-baseline="central" font-family="Liberation Sans" fill="#333">α</text>
<text x="519.8" y="330.6" font-size="5.2" text-anchor="middle" dominant-baseline="central" font-family="Liberation Sans" fill="#333">2</text>
<text x="536.9" y="340.0" font-size="4.6" text-anchor="middle" dominant-baseline="central" font-family="Liberation Sans" fill="#333">α</text>
<text x="484.3" y="390.5" font-size="4.6" text-anchor="middle" dominant-baseline="central" font-family="Liberation Sans" fill="#333">α</text>
<text x="519.8" y="354.1" font-size="5.2" text-anchor="middle" dominant-baseline="central" font-family="Liberation Sans" fill="#333">3</text>
<text x="462.0" y="379.8" font-size="4.6" text-anchor="middle" dominant-baseline="central" font-family="Liberation Sans" fill="#333">α</text>
<text x="467.6" y="383.2" font-size="5.2" text-anchor="middle" dominant-baseline="central" font-family="Liberation Sans" fill="#333">2</text>
<text x="467.2" y="405.5" font-size="5.2" text-anchor="middle" dominant-baseline="central" font-family="Liberation Sans" fill="#333">3</text>
<text x="462.0" y="411.0" font-size="4.6" text-anchor="middle" dominant-baseline="central" font-family="Liberation Sans" fill="#333">α</text>
<text x="156.4" y="277.7" font-size="4.4" text-anchor="middle" dominant-baseline="central" font-family="Liberation Sans" font-weight="bold" fill="#222">9Ac</text>
<text x="425.6" y="252.7" font-size="4.4" text-anchor="middle" dominant-baseline="central" font-family="Liberation Sans" font-weight="bold" fill="#222">9Ac</text>
<text x="560.5" y="342.7" font-size="5" text-anchor="middle" dominant-baseline="central" font-family="Liberation Sans" fill="#333">OH</text>
<text x="1.0" y="17.3" font-size="14.5" font-weight="bold" font-family="Liberation Serif" fill="#000">A.</text>
<text x="320.2" y="17.4" font-size="14.5" font-weight="bold" font-family="Liberation Serif" fill="#000">B.</text>
<text x="105.0" y="262.4" font-size="14.5" font-weight="bold" font-family="Liberation Serif" fill="#000">C.</text>
</svg>
</body></html>
